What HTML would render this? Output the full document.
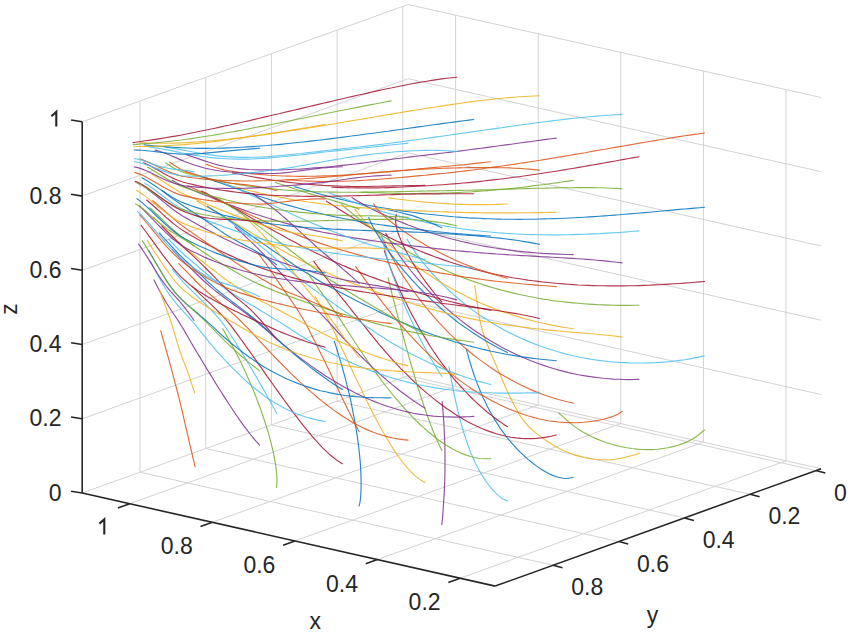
<!DOCTYPE html>
<html><head><meta charset="utf-8"><style>
html,body{margin:0;padding:0;background:#fff;}
svg{display:block;}
text{font-family:"Liberation Sans",sans-serif;font-size:23px;fill:#262626;}
.g{stroke:#d3d3d3;stroke-width:1;}
.a{stroke:#262626;stroke-width:1.6;}
path.one{stroke:#262626;stroke-width:2.1;stroke-opacity:1;fill:none;stroke-linejoin:miter;stroke-linecap:butt;}
path{fill:none;stroke-width:1.15;stroke-opacity:0.85;stroke-linecap:round;stroke-linejoin:round;}
</style></head><body>
<svg width="850" height="634" viewBox="0 0 850 634">
<rect width="850" height="634" fill="#fff"/>
<line class="g" x1="402.8" y1="377.5" x2="402.8" y2="6.3"/>
<line class="g" x1="337.1" y1="401.2" x2="337.1" y2="30"/>
<line class="g" x1="271.4" y1="424.9" x2="271.4" y2="53.7"/>
<line class="g" x1="205.7" y1="448.5" x2="205.7" y2="77.3"/>
<line class="g" x1="140" y1="472.2" x2="140" y2="101"/>
<line class="g" x1="408.1" y1="375.7" x2="82.2" y2="493"/>
<line class="g" x1="408.1" y1="301.4" x2="82.2" y2="418.8"/>
<line class="g" x1="408.1" y1="227.2" x2="82.2" y2="344.5"/>
<line class="g" x1="408.1" y1="152.9" x2="82.2" y2="270.3"/>
<line class="g" x1="408.1" y1="78.7" x2="82.2" y2="196.1"/>
<line class="g" x1="408.1" y1="4.5" x2="82.2" y2="121.8"/>
<line class="g" x1="786" y1="460.8" x2="786" y2="89.6"/>
<line class="g" x1="703.4" y1="442.2" x2="703.4" y2="71"/>
<line class="g" x1="620.8" y1="423.6" x2="620.8" y2="52.4"/>
<line class="g" x1="538.2" y1="405" x2="538.2" y2="33.8"/>
<line class="g" x1="455.6" y1="386.4" x2="455.6" y2="15.2"/>
<line class="g" x1="821.1" y1="468.7" x2="408.1" y2="375.7"/>
<line class="g" x1="821.1" y1="394.5" x2="408.1" y2="301.4"/>
<line class="g" x1="821.1" y1="320.2" x2="408.1" y2="227.2"/>
<line class="g" x1="821.1" y1="246" x2="408.1" y2="152.9"/>
<line class="g" x1="821.1" y1="171.7" x2="408.1" y2="78.7"/>
<line class="g" x1="821.1" y1="97.5" x2="408.1" y2="4.5"/>
<line class="g" x1="786" y1="460.8" x2="460.1" y2="578.2"/>
<line class="g" x1="703.4" y1="442.2" x2="377.5" y2="559.5"/>
<line class="g" x1="620.8" y1="423.6" x2="294.9" y2="540.9"/>
<line class="g" x1="538.2" y1="405" x2="212.3" y2="522.3"/>
<line class="g" x1="455.6" y1="386.4" x2="129.7" y2="503.7"/>
<line class="g" x1="815.8" y1="470.6" x2="402.8" y2="377.5"/>
<line class="g" x1="750.1" y1="494.3" x2="337.1" y2="401.2"/>
<line class="g" x1="684.4" y1="517.9" x2="271.4" y2="424.9"/>
<line class="g" x1="618.7" y1="541.6" x2="205.7" y2="448.5"/>
<line class="g" x1="553" y1="565.2" x2="140" y2="472.2"/>
<path d="M704.5 430 L700.5 433.3 L696.5 436.5 L692.1 439.2 L687.6 441.6 L682.8 443.6 L677.9 445.2 L672.9 446.6 L667.9 447.7 L662.8 448.5 L657.7 449.2 L652.5 449.6 L647.4 449.6 L642.2 449.5 L637.1 449.1 L631.9 448.5 L626.8 447.7 L621.8 446.7 L616.7 445.6 L611.8 444.3 L606.8 442.8 L602 441 L597.2 439.1 L592.5 437 L587.9 434.7 L583.3 432.2 L578.9 429.6 L574.7 426.6 L570.6 423.4 L566.7 420.1 L562.9 416.6 L559 413.2" stroke="#77AC30"/>
<path d="M704.6 355.8 L699.7 356.9 L694.7 357.9 L689.7 358.9 L684.8 359.7 L679.7 360.4 L674.7 361 L669.7 361.6 L664.7 362 L659.6 362.4 L654.6 362.7 L649.5 362.9 L644.5 363 L639.4 363 L634.3 363 L629.3 362.9 L624.2 362.6 L619.2 362.4 L614.1 362 L609.1 361.6 L604.1 361 L599 360.4 L594 359.7 L589 358.9 L584.1 358 L579.1 357 L574.2 356 L569.2 354.8 L564.3 353.6 L559.5 352.2 L554.6 350.8 L549.8 349.3 L545 347.7 L540.2 346 L535.5 344.2 L530.7 342.4 L526.1 340.4 L521.4 338.5 L516.9 336.3 L512.3 334.1 L507.8 331.9 L503.3 329.4 L498.9 327 L494.5 324.5 L490.2 321.8 L485.9 319.1 L481.7 316.3 L477.5 313.5 L473.4 310.6 L469.4 307.5 L465.3 304.5 L461.4 301.3 L457.5 298 L453.7 294.7 L450 291.3 L446.3 287.9 L442.6 284.3 L439.1 280.7 L435.6 277.1 L432.2 273.3 L428.9 269.5 L425.6 265.7 L422.5 261.8 L419.4 257.8 L416.5 253.8 L413.6 249.7 L410.9 245.5 L408.3 241.2 L407 239.1" stroke="#4DBEEE"/>
<path d="M704.6 281.5 L699.6 281.9 L694.5 282.3 L689.5 282.7 L684.4 283.1 L679.4 283.5 L674.3 283.8 L669.3 284.1 L664.2 284.4 L659.2 284.7 L654.1 284.9 L649 285.2 L644 285.4 L638.9 285.6 L633.9 285.7 L628.8 285.8 L623.7 285.9 L618.7 285.9 L613.6 285.9 L608.5 285.9 L603.5 285.8 L598.4 285.7 L593.4 285.6 L588.3 285.4 L583.2 285.2 L578.2 285 L573.1 284.6 L568.1 284.3 L563 283.9 L558 283.5 L552.9 283 L547.9 282.5 L542.9 282 L537.9 281.4 L532.8 280.7 L527.8 280.1 L522.8 279.3 L517.8 278.5 L512.8 277.7 L507.8 276.7 L502.9 275.8 L497.9 274.8 L493 273.7 L488 272.6 L483.1 271.4 L478.2 270.2 L473.3 269 L468.4 267.6 L463.5 266.2 L458.7 264.8 L453.8 263.3 L449 261.7 L444.2 260.1 L439.5 258.4 L434.7 256.7 L430 254.9 L425.3 253.1 L420.6 251.2 L415.9 249.3 L411.3 247.4 L406.7 245.4 L402.1 243.4 L397.5 241.4 L393 239.2 L388.5 237.1 L384.1 234.8 L379.6 232.5 L375.2 230.3 L370.8 228 L366.5 225.5 L362.2 223.1 L357.9 220.7 L353.6 218.2 L349.4 215.6 L345.2 213.1 L341 210.4 L336.8 207.8 L332.6 205.1 L328.5 202.5 L326.4 201.2" stroke="#A2142F"/>
<path d="M704.6 207.3 L699.6 207.7 L694.6 208.1 L689.6 208.6 L684.5 209 L679.5 209.4 L674.5 209.9 L669.5 210.4 L664.5 210.8 L659.5 211.3 L654.5 211.7 L649.5 212.2 L644.5 212.6 L639.4 213 L634.4 213.5 L629.4 213.9 L624.4 214.3 L619.4 214.8 L614.4 215.1 L609.4 215.5 L604.3 215.9 L599.3 216.2 L594.3 216.6 L589.3 216.9 L584.3 217.2 L579.2 217.5 L574.2 217.8 L569.2 218 L564.2 218.2 L559.1 218.5 L554.1 218.6 L549.1 218.8 L544 218.9 L539 219 L534 219.2 L529 219.2 L523.9 219.3 L518.9 219.3 L513.9 219.2 L508.8 219.2 L503.8 219.2 L498.8 219.1 L493.7 219 L488.7 218.8 L483.7 218.6 L478.7 218.3 L473.6 218.1 L468.6 217.9 L463.6 217.5 L458.6 217.1 L453.5 216.8 L448.5 216.3 L443.5 215.8 L438.5 215.3 L433.5 214.8 L428.5 214.2 L423.5 213.7 L418.5 213.1 L413.6 212.5 L408.6 211.8 L403.6 211.1 L398.7 210.4 L393.7 209.7 L388.8 208.8 L383.9 208 L378.9 207.2 L374 206.4 L369.1 205.5 L364.2 204.5 L359.3 203.5 L354.5 202.5 L349.6 201.4 L344.8 200.3 L340 199.1 L335.2 198 L330.3 196.7 L325.6 195.5 L320.8 194.2 L316 192.9 L311.3 191.5 L306.5 190.2 L301.8 188.7 L297 187.4 L294.6 186.7" stroke="#0072BD"/>
<path d="M704.6 133 L699.6 133.7 L694.6 134.4 L689.6 135.1 L684.6 135.8 L679.6 136.6 L674.6 137.4 L669.6 138.2 L664.7 139 L659.7 139.8 L654.7 140.6 L649.7 141.5 L644.8 142.3 L639.8 143.1 L634.8 144 L629.8 144.9 L624.9 145.7 L619.9 146.6 L614.9 147.4 L609.9 148.3 L605 149.2 L600 150 L595 150.9 L590 151.8 L585.1 152.7 L580.1 153.5 L575.1 154.4 L570.2 155.2 L565.2 156.1 L560.2 156.9 L555.2 157.7 L550.2 158.6 L545.3 159.4 L540.3 160.2 L535.3 161 L530.3 161.8 L525.3 162.6 L520.3 163.3 L515.3 164.1 L510.3 164.8 L505.4 165.5 L500.4 166.2 L495.4 166.9 L490.4 167.6 L485.4 168.3 L480.4 169 L475.3 169.7 L470.3 170.3 L465.3 170.9 L460.3 171.5 L455.3 172.1 L450.3 172.6 L445.3 173.2 L440.2 173.6 L435.2 174.1 L430.2 174.6 L425.2 175.2 L420.1 175.6 L415.1 176.1 L410.1 176.6 L405 177.1 L400 177.5 L395 178 L389.9 178.4 L384.9 178.8 L379.8 179.2 L374.8 179.6 L369.7 179.9 L364.7 180.3 L359.6 180.6 L354.6 180.8 L349.6 181 L344.5 181.2 L339.5 181.3 L334.4 181.4 L329.4 181.4 L324.3 181.5 L319.3 181.4 L314.3 181.3 L309.2 181.1 L304.2 181 L299.2 180.7 L294.2 180.3 L289.2 179.9 L286.7 179.7" stroke="#D95319"/>
<path d="M639.8 453.3 L634.9 454.7 L630 456 L625.2 457.4 L620.2 458.5 L615.2 459.2 L610.1 459.7 L605.1 459.8 L600 459.6 L595 459.2 L589.9 458.6 L584.9 457.7 L580 456.5 L575.1 455.1 L570.4 453.5 L565.7 451.5 L561.1 449.4 L556.6 447 L552.2 444.5 L547.9 441.7 L543.7 438.9 L539.6 435.9 L535.6 432.9 L531.8 429.5 L528.2 426 L524.8 422.2 L521.8 418.1 L519 413.9 L516.5 409.4 L514.1 405 L511.8 400.5 L509.5 395.9 L507.4 391.4 L505.3 386.8 L503.3 382.1 L501.3 377.4 L499.3 372.8 L497.3 368.1 L495.3 363.4 L493.3 358.8 L491.3 354.2 L489.3 349.5 L487.4 344.8 L485.6 340 L484 335.2 L482.4 330.4 L481.1 325.5 L480 320.6 L479 315.6 L478.3 310.6 L477.6 305.6 L476.9 300.6 L476.2 295.5 L475.5 290.5 L474.7 285.5" stroke="#EDB120"/>
<path d="M638.9 379.4 L633.8 379.5 L628.8 379.6 L623.8 379.5 L618.7 379.3 L613.7 379.1 L608.6 378.7 L603.6 378.3 L598.6 377.7 L593.6 377.1 L588.6 376.4 L583.6 375.6 L578.6 374.7 L573.7 373.7 L568.7 372.6 L563.8 371.4 L558.9 370.1 L554.1 368.7 L549.2 367.2 L544.4 365.6 L539.7 364 L534.9 362.3 L530.2 360.5 L525.5 358.5 L520.9 356.6 L516.3 354.5 L511.7 352.3 L507.2 350 L502.7 347.7 L498.3 345.3 L493.9 342.8 L489.6 340.2 L485.3 337.6 L481 334.8 L476.8 332 L472.7 329.2 L468.6 326.2 L464.5 323.2 L460.5 320.1 L456.6 316.9 L452.7 313.7 L448.9 310.4 L445.1 307.1 L441.4 303.6 L437.8 300.1 L434.2 296.6 L430.6 293 L427.2 289.3 L423.8 285.7 L420.4 281.9 L417.1 278.2 L413.9 274.3 L410.7 270.5 L407.6 266.6 L404.6 262.6 L401.7 258.6 L398.8 254.6 L396 250.4 L393.3 246.2 L390.7 242 L388.2 237.7 L385.8 233.4" stroke="#7E2F8E"/>
<path d="M638.9 305.2 L633.8 305.3 L628.8 305.3 L623.7 305.3 L618.7 305.3 L613.6 305.2 L608.6 305.1 L603.5 304.9 L598.5 304.7 L593.5 304.4 L588.4 304.1 L583.4 303.7 L578.3 303.3 L573.3 302.9 L568.3 302.4 L563.3 301.8 L558.2 301.2 L553.2 300.6 L548.2 299.8 L543.2 299.1 L538.3 298.2 L533.3 297.2 L528.3 296.3 L523.4 295.3 L518.4 294.2 L513.5 293.1 L508.6 291.9 L503.7 290.7 L498.8 289.4 L494 288 L489.1 286.6 L484.3 285.1 L479.5 283.5 L474.7 281.9 L470 280.2 L465.2 278.4 L460.5 276.7 L455.8 274.8 L451.1 272.9 L446.5 270.8 L441.9 268.8 L437.3 266.6 L432.8 264.5 L428.3 262.2 L423.8 260 L419.3 257.7 L414.9 255.4 L410.5 252.9 L406.1 250.5 L401.8 248 L397.6 245.4 L393.3 242.8 L389.1 240.1 L385 237.4 L380.8 234.7 L376.8 231.9 L372.7 229 L368.7 226.1 L364.7 223.2 L360.8 220.2 L356.9 217.2 L353.1 214.1 L349.3 211 L345.5 207.8 L341.8 204.6" stroke="#77AC30"/>
<path d="M638.9 230.9 L633.8 231.3 L628.8 231.7 L623.7 232.1 L618.7 232.5 L613.6 232.8 L608.6 233.1 L603.5 233.4 L598.4 233.7 L593.4 233.9 L588.3 234.1 L583.3 234.3 L578.2 234.4 L573.1 234.6 L568.1 234.7 L563 234.8 L557.9 234.8 L552.8 234.8 L547.8 234.8 L542.7 234.7 L537.6 234.7 L532.6 234.6 L527.5 234.5 L522.4 234.3 L517.4 234 L512.3 233.8 L507.3 233.5 L502.2 233.1 L497.1 232.7 L492.1 232.3 L487 231.8 L482 231.3 L477 230.8 L471.9 230.1 L466.9 229.5 L461.9 228.8 L456.9 228 L451.9 227.2 L446.9 226.4 L441.9 225.5 L436.9 224.5 L431.9 223.6 L427 222.6 L422 221.5 L417.1 220.4 L412.2 219.3 L407.3 218.1 L402.4 216.9 L397.5 215.7 L392.6 214.5 L387.8 213.1 L383 211.7 L378.2 210.4 L373.4 208.9 L368.6 207.3 L363.9 205.8 L359.2 204.2 L354.5 202.5 L349.8 200.8 L345.2 199 L340.5 197.3 L335.9 195.5 L331.3 193.6 L329 192.6" stroke="#4DBEEE"/>
<path d="M638.9 156.7 L633.9 157.6 L628.9 158.5 L623.9 159.4 L618.9 160.3 L614 161.2 L609 162.1 L604 163 L599 163.9 L594 164.8 L589 165.6 L584 166.5 L579 167.4 L574 168.2 L569 169 L564 169.9 L559 170.7 L554 171.5 L549 172.3 L544 173 L539 173.8 L533.9 174.5 L528.9 175.2 L523.9 176 L518.9 176.7 L513.9 177.3 L508.8 178 L503.8 178.7 L498.8 179.3 L493.7 179.9 L488.7 180.4 L483.7 181 L478.6 181.6 L473.6 182.1 L468.5 182.6 L463.5 183 L458.4 183.5 L453.4 183.9 L448.3 184.3 L443.3 184.7 L438.2 185 L433.2 185.3 L428.1 185.7 L423 186 L418 186.3 L412.9 186.5 L407.8 186.8 L402.8 187 L397.7 187.2 L392.6 187.4 L387.6 187.6 L382.5 187.7 L377.4 187.9 L372.4 187.9 L367.3 187.9 L362.2 188 L357.2 187.9 L352.1 187.8 L347 187.8 L342 187.6 L336.9 187.5 L331.9 187.3" stroke="#A2142F"/>
<path d="M573.2 477.3 L568.2 478.5 L563.1 478.3 L558.1 477.3 L553.3 475.6 L548.6 473.5 L544.2 471.1 L539.9 468.4 L535.7 465.4 L531.6 462.3 L527.7 459.1 L523.9 455.6 L520.2 452.1 L516.6 448.5 L513.2 444.7 L509.8 440.8 L506.6 436.9 L503.6 432.8 L500.5 428.7 L497.8 424.4 L495 420.1 L492.4 415.7 L489.9 411.2 L487.5 406.7 L485.3 402.1 L483 397.5 L481 392.8 L479.1 388.1 L477.2 383.4 L475.4 378.6 L473.7 373.8 L472.1 368.9 L470.6 364 L469.1 359.1 L467.7 354.2 L466.4 349.3" stroke="#0072BD"/>
<path d="M573.2 403.1 L568.2 402 L563.3 400.8 L558.4 399.5 L553.5 398 L548.6 396.5 L543.8 394.8 L539.1 393 L534.3 391.1 L529.6 389.1 L525 387 L520.4 384.8 L515.9 382.5 L511.4 380.1 L506.9 377.6 L502.5 375.1 L498.1 372.4 L493.9 369.7 L489.6 366.8 L485.5 363.9 L481.3 360.9 L477.3 357.9 L473.2 354.7 L469.3 351.5 L465.4 348.2 L461.6 344.9 L457.8 341.4 L454.1 337.9 L450.4 334.4 L446.8 330.8 L443.3 327.2 L439.8 323.4 L436.4 319.7 L433 315.8 L429.7 311.9 L426.5 308 L423.3 304 L420.2 300.1 L417.2 296 L414.2 292 L411.2 287.9 L408.4 283.8 L405.6 279.6 L402.8 275.4 L400.1 271.2 L397.5 266.9 L395 262.5 L392.5 258.2 L390.1 253.8 L387.8 249.3 L385.5 244.8 L383.5 240.3 L382.4 238" stroke="#D95319"/>
<path d="M573.2 328.8 L568.2 328 L563.2 327.2 L558.2 326.4 L553.2 325.4 L548.2 324.4 L543.3 323.3 L538.3 322.2 L533.4 321 L528.5 319.7 L523.6 318.4 L518.7 316.9 L513.9 315.4 L509.1 313.8 L504.3 312.2 L499.5 310.5 L494.7 308.7 L490 306.9 L485.3 305 L480.6 303 L476 300.9 L471.4 298.8 L466.8 296.6 L462.3 294.3 L457.8 291.9 L453.3 289.6 L448.9 287.1 L444.5 284.5 L440.1 281.9 L435.8 279.2 L431.6 276.5 L427.3 273.8 L423.2 270.9 L419 268.1 L414.9 265.2 L410.9 262.2 L406.9 259.2 L402.9 256.1 L399 253 L395.2 249.8 L391.4 246.6 L387.6 243.3 L383.9 240 L380.3 236.6 L376.6 233.2 L373.2 229.7 L369.7 226.1 L366.2 222.6 L362.9 218.9 L359.7 215.2 L356.5 211.3 L355 209.4" stroke="#EDB120"/>
<path d="M573.2 254.6 L568.1 254.5 L563 254.3 L557.9 254.1 L552.8 253.9 L547.7 253.6 L542.6 253.4 L537.5 253 L532.4 252.6 L527.3 252.1 L522.2 251.6 L517.2 251.1 L512.1 250.4 L507 249.7 L502 249.1 L496.9 248.3 L491.9 247.5 L486.8 246.6 L481.8 245.7 L476.8 244.8 L471.8 243.7 L466.8 242.6 L461.8 241.5 L456.9 240.3 L451.9 239 L447 237.7 L442.1 236.2 L437.2 234.7 L432.3 233.2 L427.5 231.7 L422.6 230.1 L417.8 228.5 L413.1 226.7 L408.3 225 L403.6 223.1 L398.9 221.3 L394.2 219.4 L389.6 217.4 L385 215.3 L380.5 213.2 L375.9 211 L371.4 208.8 L367 206.5 L362.6 204.1 L358.3 201.6 L354.1 198.9 L352 197.6" stroke="#7E2F8E"/>
<path d="M573.2 180.4 L568.2 181.1 L563.2 181.8 L558.1 182.6 L553.1 183.3 L548.1 184 L543.1 184.7 L538.1 185.3 L533 185.9 L528 186.6 L523 187.2 L517.9 187.7 L512.9 188.3 L507.8 188.8 L502.8 189.3 L497.7 189.7 L492.7 190.2 L487.6 190.6 L482.6 191 L477.5 191.4 L472.5 191.8 L467.4 192 L462.4 192.3 L457.3 192.6 L452.2 192.8 L447.2 193 L442.1 193.1 L437 193.2 L432 193.3 L426.9 193.4 L421.8 193.4 L416.8 193.5 L411.7 193.5 L406.6 193.5 L401.6 193.5 L396.5 193.4 L391.4 193.3 L386.4 193.2 L381.3 193 L376.3 192.8 L371.2 192.6 L366.2 192.4 L361.1 192.4" stroke="#77AC30"/>
<path d="M507.5 501 L502.8 498.9 L498.7 495.9 L495.1 492.3 L491.6 488.6 L488.4 484.6 L485.4 480.4 L482.6 476.1 L480 471.7 L477.5 467.2 L475.2 462.7 L473.1 458 L471 453.3 L469.2 448.6 L467.5 443.7 L465.8 438.9 L464.2 434 L462.7 429.1 L461.3 424.2 L460 419.3 L458.8 414.3 L457.6 409.3 L456.4 404.3 L455.3 399.3 L454.2 394.3 L453.2 389.3 L452.2 384.3 L451.2 379.3 L450.3 374.3 L449.4 369.2 L448.9 366.7" stroke="#4DBEEE"/>
<path d="M507.5 426.7 L503.2 423.9 L499 421 L494.9 418 L490.8 414.9 L486.8 411.7 L483 408.4 L479.1 405 L475.4 401.6 L471.7 398 L468.1 394.4 L464.5 390.7 L461.1 386.9 L457.7 383.1 L454.3 379.3 L451.1 375.3 L448 371.3 L444.8 367.2 L441.8 363.1 L438.8 359 L435.9 354.8 L433 350.5 L430.2 346.3 L427.5 341.9 L424.9 337.6 L422.2 333.2 L419.7 328.8 L417.2 324.3 L414.8 319.8 L412.3 315.4 L410 310.9 L407.7 306.3 L405.5 301.8 L403.2 297.3 L401.1 292.8 L399 288.3 L397 283.7 L395 279.1 L393 274.5 L391.2 269.8 L389.3 265.1 L387.6 260.4 L386 255.6 L384.3 250.8" stroke="#A2142F"/>
<path d="M507.5 352.5 L502.9 350.3 L498.4 347.9 L493.9 345.5 L489.5 343.1 L485.1 340.5 L480.7 337.8 L476.4 335.1 L472.2 332.3 L468 329.4 L463.8 326.5 L459.6 323.6 L455.6 320.5 L451.6 317.3 L447.6 314.1 L443.7 310.9 L439.9 307.5 L436.1 304.1 L432.4 300.6 L428.7 297.1 L425.1 293.6 L421.5 290 L418 286.4 L414.5 282.7 L411.1 279 L407.8 275.2 L404.5 271.5 L401.3 267.7 L398.1 263.7 L395.1 259.8 L392 255.8 L389 251.8 L386.1 247.7 L383.3 243.6 L380.6 239.4 L377.9 235.2 L375.4 230.9 L372.9 226.5 L370.6 222.1 L368.6 217.5" stroke="#0072BD"/>
<path d="M507.5 278.3 L502.6 276.9 L497.6 275.5 L492.7 274.1 L487.8 272.5 L482.9 270.8 L478 269.2 L473.2 267.5 L468.4 265.6 L463.6 263.7 L458.9 261.7 L454.2 259.7 L449.6 257.4 L444.9 255.2 L440.3 252.9 L435.8 250.6 L431.2 248.2 L426.7 245.7 L422.3 243.1 L417.9 240.5 L413.6 237.9 L409.3 235.1 L405.1 232.3 L401 229.4 L396.9 226.4 L392.9 223.3 L388.9 220.2 L385.1 216.9 L381.4 213.5 L378 209.8 L374.9 205.9 L373.6 203.7" stroke="#D95319"/>
<path d="M507.5 204 L502.3 204.2 L497.1 204.4 L491.9 204.5 L486.7 204.6 L481.5 204.6 L476.3 204.6 L471.1 204.6 L466 204.5 L460.8 204.4 L455.6 204.2 L450.4 203.9 L445.2 203.6 L440 203.3 L434.8 202.9 L429.7 202.5 L424.5 202.1 L419.3 201.5 L414.2 201 L409 200.5 L403.9 199.8 L398.7 199.2 L393.6 198.5 L388.5 197.9" stroke="#EDB120"/>
<path d="M441.8 524.6 L442.4 519.5 L442.8 514.4 L443.2 509.3 L443.5 504.2 L443.8 499 L444.2 493.9 L444.4 488.8 L444.6 483.7 L444.8 478.5 L444.9 473.4 L445 468.3 L445 463.2 L445 458 L445 452.9 L444.9 447.8 L444.8 442.6 L444.5 437.5 L444.3 432.4 L444.1 427.3 L443.8 422.2 L443.4 417 L443 411.9 L442.6 406.8 L442.2 401.7" stroke="#7E2F8E"/>
<path d="M441.8 450.4 L439.6 445.8 L437.4 441.1 L435.4 436.4 L433.4 431.7 L431.5 426.9 L429.7 422.1 L427.9 417.3 L426.2 412.5 L424.5 407.7 L422.9 402.8 L421.3 397.9 L419.7 393.1 L418.1 388.2 L416.6 383.3 L415.2 378.3 L413.7 373.4 L412.3 368.5 L410.8 363.6 L409.4 358.7 L408.1 353.7 L406.7 348.8 L405.3 343.8 L403.9 338.9 L402.6 333.9 L401.3 329 L399.9 324.1 L398.6 319.2 L397.3 314.3 L396 309.4 L394.8 304.5 L393.5 299.7 L392.2 294.9 L391.1 290 L389.9 285.1 L388.7 280.3 L388.1 277.8" stroke="#77AC30"/>
<path d="M441.8 376.2 L439 371.9 L436.3 367.5 L433.6 363.2 L431 358.8 L428.5 354.3 L426 349.8 L423.6 345.3 L421.2 340.7 L418.9 336.2 L416.6 331.6 L414.4 326.9 L412.2 322.3 L410.1 317.7 L408 313 L405.9 308.4 L404 303.7 L402 299.1 L400.1 294.4 L398.2 289.7 L396.5 285 L394.7 280.4 L393 275.6 L391.3 270.8 L389.7 266 L388.2 261.2 L386.7 256.3 L385.4 251.4 L384.1 246.5 L383 241.5 L382 236.5 L381.6 234" stroke="#4DBEEE"/>
<path d="M441.8 301.9 L438.4 298 L435.1 294 L431.8 289.9 L428.6 285.8 L425.5 281.7 L422.5 277.5 L419.5 273.2 L416.6 268.9 L413.9 264.6 L411.2 260.2 L408.6 255.8 L406.2 251.3 L403.8 246.7 L401.7 242.1 L399.7 237.3 L397.9 232.5 L396.5 227.5 L395.7 222.4 L395.8 217.2 L396.3 214.7" stroke="#A2142F"/>
<path d="M441.8 227.7 L436.9 225.4 L431.9 223.2 L426.9 221.1 L421.9 219 L416.9 217.1 L411.7 215.4 L406.5 214.1 L401.3 212.8 L396.1 211.5 L390.8 210.3 L388.2 209.8" stroke="#0072BD"/>
<path d="M622 411.4 L617.8 414.2 L613.2 416.3 L608.4 417.9 L603.5 419.2 L598.6 420.3 L593.6 421.2 L588.6 421.8 L583.6 422.3 L578.5 422.6 L573.5 422.7 L568.4 422.6 L563.4 422.4 L558.3 422 L553.3 421.4 L548.3 420.7 L543.4 419.7 L538.4 418.7 L533.5 417.4 L528.6 416 L523.8 414.5 L519 412.8 L514.3 411 L509.6 409.2 L505 407.2 L500.4 405.1 L495.9 402.8 L491.4 400.4 L486.9 398 L482.6 395.5 L478.2 392.9 L473.9 390.2 L469.7 387.4 L465.6 384.6 L461.4 381.6 L457.4 378.7 L453.4 375.6 L449.4 372.4 L445.5 369.2 L441.6 365.9 L437.8 362.6 L434.1 359.3 L430.3 355.8 L426.7 352.3 L423.1 348.8 L419.5 345.2 L416 341.5 L412.6 337.9 L409.1 334.2 L405.7 330.4 L402.4 326.6 L399.1 322.8 L395.9 318.9 L392.7 315.1 L389.5 311.2 L386.4 307.4 L383.3 303.6 L380.3 299.7 L377.3 295.9 L374.3 292 L371.4 288.2 L368.4 284.3 L365.5 280.4 L362.7 276.4 L359.8 272.4 L357 268.4 L355.6 266.4" stroke="#D95319"/>
<path d="M622 337.1 L617 336.4 L612 335.8 L607 335.3 L602 334.8 L597 334.3 L591.9 333.8 L586.9 333.4 L581.9 333 L576.9 332.6 L571.8 332.2 L566.8 331.7 L561.8 331.3 L556.8 330.8 L551.8 330.4 L546.7 329.9 L541.7 329.3 L536.7 328.8 L531.7 328.2 L526.7 327.6 L521.7 327 L516.7 326.3 L511.7 325.6 L506.7 324.9 L501.7 324.2 L496.8 323.4 L491.8 322.5 L486.8 321.7 L481.9 320.8 L476.9 319.9 L472 318.9 L467 317.9 L462.1 316.8 L457.2 315.7 L452.3 314.5 L447.4 313.3 L442.5 312.1 L437.6 310.9 L432.7 309.5 L427.9 308.2 L423 306.8 L418.2 305.4 L413.4 304 L408.6 302.5 L403.8 301 L399 299.5 L394.2 298 L389.5 296.4 L384.8 294.8 L380.1 293.3 L375.4 291.6 L370.7 289.9 L366 288.3 L361.4 286.6 L356.8 284.9 L352.2 283.1 L347.6 281.4 L343 279.5 L338.4 277.7 L333.9 275.8 L329.4 273.8 L324.9 271.7 L320.4 269.7 L316 267.6 L311.5 265.5 L307.1 263.4 L302.7 261.2 L298.3 258.9 L293.9 256.7 L289.6 254.4 L285.3 252 L280.9 249.7 L276.6 247.3 L272.3 244.9 L268 242.5 L263.7 240.1 L259.5 237.6 L255.2 235.1 L250.9 232.6 L246.7 230.1 L242.4 227.6 L238.2 225.1 L233.9 222.5 L229.6 220 L225.3 217.5 L221.1 214.9 L216.8 212.4 L212.5 209.9 L208.1 207.4 L203.8 204.9 L199.4 202.5 L197.2 201.3" stroke="#EDB120"/>
<path d="M622 262.9 L617 262.3 L612 261.7 L607 261.1 L602 260.6 L597 260.2 L592 259.7 L587 259.4 L582 259 L577 258.7 L571.9 258.4 L566.9 258.1 L561.9 257.8 L556.9 257.5 L551.9 257.2 L546.8 256.9 L541.8 256.7 L536.8 256.4 L531.8 256.1 L526.8 255.8 L521.7 255.6 L516.7 255.3 L511.7 255 L506.7 254.6 L501.7 254.3 L496.6 254 L491.6 253.6 L486.6 253.3 L481.6 252.9 L476.6 252.5 L471.6 252 L466.6 251.6 L461.6 251.1 L456.5 250.7 L451.5 250.2 L446.5 249.7 L441.5 249.1 L436.5 248.6 L431.6 248 L426.6 247.5 L421.6 246.9 L416.6 246.4 L411.6 245.8 L406.6 245.1 L401.7 244.5 L396.7 243.9 L391.7 243.4 L386.8 242.7 L381.8 242 L376.9 241.3 L371.9 240.6 L367 239.9 L362.1 239.1 L357.1 238.4 L352.2 237.6 L347.3 236.7 L342.4 235.9 L337.5 235 L332.6 234 L327.8 233.1 L322.9 232.2 L318 231.1 L313.2 230.1 L308.4 229 L303.5 227.8 L298.7 226.6 L293.9 225.5 L289.1 224.1 L284.3 222.9 L279.6 221.5 L274.8 220.1 L270.1 218.7 L265.4 217.3 L260.7 215.7 L255.9 214.2 L251.2 212.7 L246.6 211 L241.9 209.4 L237.2 207.6 L232.6 205.9 L227.9 204.2 L223.3 202.4 L218.6 200.6 L214 198.7 L209.4 196.8 L204.8 195 L200.1 193.1 L195.5 191.2 L190.9 189.3 L186.2 187.4 L181.6 185.4 L176.9 183 L172.2 180.3" stroke="#7E2F8E"/>
<path d="M622 188.7 L617 188.4 L611.9 188.2 L606.9 188 L601.8 187.8 L596.8 187.7 L591.7 187.6 L586.7 187.6 L581.6 187.6 L576.6 187.6 L571.5 187.7 L566.5 187.7 L561.5 187.8 L556.4 187.8 L551.4 188 L546.3 188.1 L541.3 188.2 L536.2 188.3 L531.2 188.5 L526.1 188.6 L521.1 188.8 L516 188.9 L511 189.1 L505.9 189.2 L500.9 189.4 L495.9 189.5 L490.8 189.7 L485.8 189.8 L480.7 189.9 L475.7 190.1 L470.6 190.2 L465.6 190.3 L460.5 190.4 L455.5 190.5 L450.4 190.6 L445.4 190.7 L440.3 190.8 L435.3 190.8 L430.3 190.9 L425.2 191 L420.2 191.1 L415.1 191.3 L410.1 191.4 L405 191.5 L400 191.6 L394.9 191.7 L389.9 191.8 L384.8 191.9 L379.8 191.9 L374.7 192 L369.7 192 L364.6 192.1 L359.6 192.2 L354.6 192.2 L349.5 192.2 L344.5 192.2 L339.4 192.2 L334.4 192.1 L329.4 192 L324.3 192 L319.3 191.9 L314.3 191.7 L309.3 191.5 L304.2 191.2 L299.2 191 L294.2 190.7 L289.2 190.4 L284.2 190 L279.2 189.6 L274.2 189.1 L269.2 188.6 L264.2 188.1 L259.2 187.5 L254.3 186.9 L249.3 186.2 L244.3 185.4 L239.4 184.6 L234.5 183.8 L229.5 183 L224.6 182 L219.7 181 L214.8 179.9 L209.9 178.9 L205 177.8 L200.1 176.6 L195.2 175.4 L190.3 174.1 L185.4 172.9 L180.5 171.3 L175.6 169.1 L170.8 166.2 L165.9 163.1" stroke="#77AC30"/>
<path d="M622 114.4 L617 114.7 L611.9 115 L606.9 115.3 L601.9 115.7 L596.8 116.1 L591.8 116.5 L586.8 117 L581.7 117.5 L576.7 118 L571.7 118.5 L566.7 119.1 L561.7 119.7 L556.7 120.3 L551.7 120.9 L546.7 121.5 L541.6 122.2 L536.6 122.8 L531.6 123.5 L526.6 124.2 L521.6 124.8 L516.6 125.5 L511.6 126.2 L506.6 126.9 L501.7 127.7 L496.7 128.4 L491.7 129.1 L486.7 129.8 L481.7 130.5 L476.7 131.2 L471.7 131.9 L466.7 132.6 L461.7 133.3 L456.7 134.1 L451.7 134.8 L446.7 135.5 L441.7 136.2 L436.7 136.9 L431.7 137.6 L426.7 138.3 L421.7 139 L416.7 139.7 L411.7 140.4 L406.7 141 L401.7 141.7 L396.7 142.4 L391.7 143 L386.7 143.7 L381.7 144.3 L376.7 144.9 L371.7 145.5 L366.6 146.1 L361.6 146.7 L356.6 147.2 L351.6 147.7 L346.6 148.3 L341.6 148.8 L336.5 149.4 L331.5 150 L326.5 150.5 L321.5 151.1 L316.4 151.7 L311.4 152.3 L306.4 152.8 L301.3 153.5 L296.3 154 L291.3 154.5 L286.2 155 L281.2 155.5 L276.1 156 L271.1 156.4 L266.1 156.7 L261 157 L256 157.2 L250.9 157.3 L245.9 157.4 L240.8 157.4 L235.8 157.1 L230.7 156.9 L225.7 156.6 L220.6 156.1 L215.6 155.6 L210.6 154.9 L205.6 154.1 L200.5 153.4 L195.5 152.5 L190.5 151.5 L185.5 150.5 L180.5 149.6 L175.5 148.7 L170.5 147.9 L165.5 147.1" stroke="#4DBEEE"/>
<path d="M556.3 435 L551.4 436.2 L546.4 437.1 L541.4 437.9 L536.3 438.4 L531.2 438.6 L526.2 438.6 L521.1 438.4 L516.1 437.9 L511 437.2 L506 436.2 L501.1 435 L496.2 433.7 L491.4 432.1 L486.6 430.4 L481.9 428.5 L477.3 426.4 L472.7 424.2 L468.2 421.9 L463.8 419.4 L459.4 416.8 L455.1 414.2 L450.9 411.3 L446.7 408.5 L442.6 405.5 L438.5 402.5 L434.5 399.4 L430.6 396.1 L426.6 392.9 L422.8 389.6 L419 386.2 L415.3 382.8 L411.6 379.3 L408 375.7 L404.4 372.2 L400.8 368.6 L397.3 364.9 L393.8 361.2 L390.4 357.4 L387.1 353.6 L383.8 349.8 L380.4 346 L377.2 342.1 L374 338.1 L370.8 334.1 L367.6 330.2 L364.5 326.2 L361.4 322.3 L358.3 318.4 L355.2 314.6 L352.2 310.8 L349.2 307 L346.2 303.2 L343.2 299.6 L340.2 295.9 L337.3 292.2 L334.3 288.5 L331.4 284.8 L328.5 281 L325.5 277.2 L322.6 273.2 L319.7 269.3 L316.7 265.3 L313.8 261.3" stroke="#A2142F"/>
<path d="M556.3 360.8 L551.3 360.3 L546.2 359.8 L541.2 359.3 L536.2 358.7 L531.2 358.1 L526.2 357.4 L521.2 356.7 L516.2 355.9 L511.2 355.1 L506.2 354.2 L501.2 353.2 L496.3 352.2 L491.3 351.2 L486.4 350.1 L481.5 349 L476.5 347.8 L471.7 346.6 L466.8 345.2 L461.9 343.9 L457 342.5 L452.2 341 L447.4 339.5 L442.6 338 L437.8 336.3 L433 334.7 L428.3 333 L423.5 331.2 L418.8 329.4 L414.1 327.5 L409.5 325.5 L404.8 323.5 L400.2 321.5 L395.6 319.5 L391 317.4 L386.4 315.3 L381.9 313.2 L377.4 311 L372.9 308.8 L368.4 306.6 L363.9 304.5 L359.5 302.2 L355.1 300 L350.8 297.7 L346.4 295.5 L342.1 293.3 L337.8 291 L333.5 288.7 L329.2 286.4 L325 284 L320.7 281.7 L316.6 279.2 L312.4 276.6 L308.2 274.1 L304.1 271.4 L299.9 268.7 L295.8 266.1 L291.7 263.3 L287.6 260.6 L283.5 257.8 L279.5 255.1 L275.4 252.2 L271.3 249.5 L267.3 246.6 L263.2 243.8 L259.2 241 L255.2 238.2 L251.1 235.3 L247 232.5 L243 229.7 L238.9 226.8 L234.8 224.1 L230.7 221.2 L226.5 218.5 L222.4 215.8 L218.2 213.1 L213.9 210.4 L209.7 207.8 L207.6 206.4" stroke="#0072BD"/>
<path d="M556.3 286.6 L551.3 286.2 L546.2 285.8 L541.2 285.5 L536.2 285.1 L531.1 284.6 L526.1 284.2 L521.1 283.8 L516 283.3 L511 282.8 L506 282.3 L501 281.7 L495.9 281.2 L490.9 280.6 L485.9 280 L480.9 279.3 L475.9 278.6 L470.9 277.9 L465.9 277.2 L460.9 276.4 L455.9 275.6 L450.9 274.8 L446 273.9 L441 273.1 L436 272.1 L431.1 271.2 L426.1 270.2 L421.2 269.2 L416.2 268.2 L411.3 267.3 L406.4 266.2 L401.5 265.2 L396.6 264.1 L391.7 263 L386.8 261.9 L381.9 260.8 L377.1 259.6 L372.2 258.4 L367.4 257.2 L362.6 255.9 L357.7 254.6 L352.9 253.3 L348.2 251.9 L343.4 250.5 L338.6 249.1 L333.9 247.7 L329.2 246.2 L324.4 244.6 L319.7 243.1 L315.1 241.4 L310.4 239.8 L305.7 238.1 L301.1 236.4 L296.5 234.6 L291.9 232.8 L287.3 231 L282.7 229.1 L278.1 227.3 L273.5 225.3 L269 223.3 L264.4 221.4 L259.9 219.3 L255.4 217.3 L250.9 215.2 L246.4 213.2 L241.9 211.1 L237.4 209 L232.9 206.9 L228.4 204.7 L223.9 202.5 L219.3 200.4 L214.8 198.3 L210.3 196.1 L205.8 194 L201.2 191.9 L196.6 189.9 L192 187.8 L187.4 185.8" stroke="#D95319"/>
<path d="M556.3 212.3 L551.3 212.4 L546.2 212.5 L541.2 212.6 L536.1 212.6 L531.1 212.7 L526 212.7 L521 212.8 L515.9 212.8 L510.9 212.8 L505.8 212.8 L500.8 212.8 L495.7 212.8 L490.7 212.8 L485.6 212.8 L480.6 212.7 L475.5 212.6 L470.5 212.6 L465.4 212.5 L460.4 212.4 L455.3 212.3 L450.3 212.1 L445.3 211.9 L440.2 211.7 L435.2 211.5 L430.1 211.3 L425.1 211.1 L420 210.9 L415 210.7 L410 210.4 L404.9 210.2 L399.9 209.9 L394.9 209.7 L389.8 209.4 L384.8 209.2 L379.8 208.9 L374.8 208.6 L369.7 208.3 L364.7 207.9 L359.7 207.6 L354.7 207.2 L349.7 206.8 L344.7 206.3 L339.7 205.8 L334.7 205.3 L329.8 204.8 L324.8 204.2 L319.8 203.6 L314.9 202.9 L309.9 202.3 L305 201.5 L300 200.8 L295.1 200 L290.2 199.1 L285.3 198.3 L280.3 197.3 L275.5 196.4 L270.6 195.4 L265.7 194.4 L260.8 193.3 L256 192.1 L251.1 191 L246.3 189.8 L241.4 188.5 L236.6 187.2 L231.8 186 L226.9 184.6 L222.1 183.2 L217.3 181.8 L212.5 180.4 L207.7 179 L202.9 177.5 L198.1 176.1 L193.2 174.7 L188.4 173.1 L183.6 171.7" stroke="#EDB120"/>
<path d="M556.3 138.1 L551.3 138.8 L546.3 139.4 L541.2 140.1 L536.2 140.8 L531.2 141.5 L526.2 142.1 L521.2 142.8 L516.2 143.5 L511.1 144.2 L506.1 144.9 L501.1 145.5 L496.1 146.2 L491.1 146.9 L486 147.6 L481 148.2 L476 148.9 L471 149.5 L466 150.2 L460.9 150.9 L455.9 151.5 L450.9 152.1 L445.9 152.7 L440.8 153.3 L435.8 153.9 L430.8 154.5 L425.8 155.1 L420.7 155.7 L415.7 156.3 L410.7 156.9 L405.6 157.5 L400.6 158.2 L395.5 158.8 L390.5 159.5 L385.5 160.1 L380.4 160.8 L375.4 161.4 L370.3 162 L365.3 162.7 L360.2 163.4 L355.2 164 L350.1 164.5 L345.1 165.1 L340 165.6 L334.9 166.2 L329.9 166.7 L324.8 167.2 L319.8 167.6 L314.7 167.9 L309.6 168.3 L304.6 168.7 L299.5 169.1 L294.4 169.2 L289.4 169.5 L284.3 169.7 L279.3 169.9 L274.2 169.9 L269.1 169.9 L264.1 169.9 L259 169.9 L254 169.7 L248.9 169.5 L243.9 169.1 L238.9 168.6 L233.8 168 L228.8 167.2 L223.8 166.2 L218.8 165.1 L213.8 163.7 L208.8 162.3 L203.8 160.6 L198.8 158.9 L193.8 157.2 L188.8 155.4 L186.3 154.6" stroke="#7E2F8E"/>
<path d="M490.6 458.7 L485.5 458.8 L480.4 458.5 L475.4 457.7 L470.5 456.5 L465.6 454.9 L460.9 453.1 L456.3 451 L451.8 448.6 L447.5 446 L443.2 443.3 L439 440.4 L435 437.2 L431 434 L427.1 430.7 L423.3 427.4 L419.6 424 L415.9 420.4 L412.4 416.8 L408.9 413.1 L405.4 409.4 L402 405.6 L398.7 401.7 L395.4 397.9 L392.1 394 L389 390 L385.8 386 L382.7 382 L379.6 377.9 L376.6 373.8 L373.7 369.7 L370.8 365.5 L367.8 361.4 L364.9 357.2 L362.1 353 L359.3 348.7 L356.4 344.5 L353.6 340.3 L350.9 336 L348.2 331.7 L345.4 327.4 L342.7 323.2 L340 319.1 L337.3 315.1 L334.6 311.2 L331.9 307.3 L329.2 303.4 L326.6 299.6 L323.8 295.9 L321.2 292.1 L318.4 288.3 L315.7 284.5 L313 280.6 L310.2 276.6 L307.5 272.5" stroke="#77AC30"/>
<path d="M490.6 384.5 L485.7 383.2 L480.8 381.9 L475.9 380.5 L471.1 379 L466.3 377.5 L461.5 375.8 L456.7 374.1 L452 372.3 L447.2 370.5 L442.5 368.6 L437.9 366.6 L433.3 364.5 L428.6 362.5 L424 360.3 L419.5 358.1 L415 355.7 L410.5 353.4 L406.1 351 L401.6 348.5 L397.2 346 L392.8 343.5 L388.5 340.9 L384.2 338.1 L380 335.4 L375.7 332.7 L371.5 329.8 L367.3 327 L363.2 324.1 L359 321.3 L354.9 318.4 L350.9 315.6 L346.8 312.7 L342.8 310 L338.8 307.1 L334.8 304.4 L330.9 301.6 L327 298.8 L323 296.1 L319.1 293.4 L315.3 290.6 L311.4 287.8 L307.6 284.9 L303.8 282 L300 279.1 L296.2 276 L292.4 272.8 L288.6 269.7 L284.9 266.5 L281.1 263.3 L277.3 260.1 L273.6 256.9 L269.8 253.8 L266 250.6 L262.2 247.4 L258.4 244.2 L254.6 241.1 L250.7 238 L246.9 234.8 L243 231.7 L239.1 228.7 L235.2 225.6 L231.2 222.6 L227.2 219.7 L223.2 216.7 L219.1 213.8" stroke="#4DBEEE"/>
<path d="M490.6 310.2 L485.6 309.3 L480.6 308.3 L475.7 307.3 L470.7 306.3 L465.8 305.2 L460.8 304.1 L455.9 302.9 L451 301.7 L446.1 300.5 L441.2 299.2 L436.3 297.8 L431.4 296.5 L426.6 295.1 L421.7 293.7 L416.9 292.2 L412.1 290.7 L407.3 289.2 L402.5 287.6 L397.7 286.1 L392.9 284.6 L388.2 282.9 L383.5 281.3 L378.8 279.6 L374.1 277.9 L369.4 276.2 L364.8 274.4 L360.1 272.6 L355.5 270.8 L350.9 268.9 L346.4 266.9 L341.8 265 L337.3 263 L332.8 260.9 L328.3 258.9 L323.8 256.8 L319.3 254.6 L314.9 252.5 L310.4 250.3 L306 248.1 L301.6 245.9 L297.2 243.5 L292.9 241.2 L288.5 238.9 L284.2 236.5 L279.9 234.1 L275.5 231.7 L271.2 229.3 L266.9 226.9 L262.6 224.4 L258.3 221.9 L254 219.5 L249.7 217 L245.4 214.6 L241 212.1 L236.7 209.6 L232.3 207.2 L228 204.8 L223.6 202.4 L219.2 200 L214.7 197.7 L210.3 195.4 L205.8 193.1 L201.3 190.9" stroke="#A2142F"/>
<path d="M490.6 236 L485.6 235.7 L480.5 235.4 L475.5 235.1 L470.4 234.7 L465.4 234.3 L460.4 233.9 L455.3 233.5 L450.3 233.1 L445.3 232.5 L440.2 232 L435.2 231.5 L430.2 231 L425.2 230.4 L420.2 229.8 L415.2 229.3 L410.2 228.7 L405.2 228.1 L400.2 227.4 L395.2 226.8 L390.2 226.1 L385.2 225.4 L380.3 224.7 L375.3 224 L370.4 223.2 L365.4 222.4 L360.5 221.5 L355.6 220.7 L350.6 219.9 L345.7 219 L340.8 218 L335.9 217 L331 215.9 L326.2 214.9 L321.3 213.8 L316.5 212.6 L311.6 211.5 L306.8 210.3 L302 209.1 L297.2 207.7 L292.4 206.4 L287.6 205.1 L282.8 203.7 L278.1 202.2 L273.3 200.8 L268.6 199.3 L263.9 197.7 L259.1 196.2 L254.4 194.6 L249.7 193 L245 191.5 L240.3 189.8 L235.5 188.2 L230.8 186.6 L226.1 185 L221.4 183.3 L216.6 181.7 L211.9 180 L207.1 178.4 L202.4 176.8 L200 176" stroke="#0072BD"/>
<path d="M490.6 161.8 L485.6 162.3 L480.5 162.9 L475.5 163.4 L470.5 163.9 L465.5 164.5 L460.4 165 L455.4 165.5 L450.4 166 L445.3 166.5 L440.3 167 L435.3 167.4 L430.2 167.8 L425.2 168.3 L420.1 168.7 L415.1 169.2 L410.1 169.7 L405 170.2 L400 170.7 L394.9 171.1 L389.9 171.6 L384.8 172 L379.8 172.4 L374.7 172.8 L369.7 173.3 L364.6 173.6 L359.6 174 L354.5 174.4 L349.4 174.7 L344.4 175 L339.3 175.2 L334.3 175.5 L329.2 175.7 L324.2 175.9 L319.1 176.1 L314.1 176.2 L309 176.3 L304 176.3 L298.9 176.3 L293.9 176.2 L288.8 176.1 L283.8 176 L278.7 175.8 L273.7 175.5 L268.7 175.3 L263.7 174.8 L258.7 174.4 L253.7 174 L248.7 173.5 L243.7 172.9 L238.7 172.2 L233.7 171.6 L228.7 170.8 L223.7 169.9 L218.8 168.5 L213.8 167 L208.9 165.3 L206.4 164.3" stroke="#D95319"/>
<path d="M424.9 482.4 L420.5 479.9 L416.4 476.9 L412.6 473.5 L409.1 469.9 L405.8 466 L402.6 462.1 L399.6 458 L396.7 453.8 L393.8 449.7 L391.1 445.4 L388.5 441 L385.8 436.7 L383.3 432.3 L380.8 427.9 L378.4 423.4 L376 418.9 L373.6 414.4 L371.3 409.9 L369 405.4 L366.8 400.9 L364.5 396.3 L362.3 391.7 L360.2 387.1 L358 382.6 L355.8 378 L353.6 373.4 L351.5 368.8 L349.3 364.2 L347.2 359.6 L345.1 355 L342.9 350.4 L340.7 345.8 L338.6 341.2 L336.5 336.6 L334.3 332 L332.1 327.5 L329.9 323 L327.7 318.7 L325.5 314.5 L323.3 310.4 L321 306.4 L318.7 302.4 L316.4 298.5 L315.3 296.5" stroke="#EDB120"/>
<path d="M424.9 408.1 L420.6 405.4 L416.3 402.6 L412.1 399.7 L408 396.8 L403.9 393.7 L399.8 390.7 L395.8 387.5 L391.9 384.4 L388 381.1 L384.1 377.8 L380.3 374.4 L376.5 371 L372.7 367.6 L369.1 364.1 L365.4 360.6 L361.7 357 L358.1 353.4 L354.6 349.8 L351 346.1 L347.5 342.5 L344 338.8 L340.5 335 L337.1 331.3 L333.7 327.5 L330.3 323.8 L326.9 320.2 L323.6 316.7 L320.2 313.2 L316.9 309.8 L313.6 306.4 L310.3 303.1 L307 299.9 L303.7 296.6 L300.4 293.4 L297.1 290.1 L293.8 286.8 L290.5 283.4 L287.2 279.9 L283.9 276.3 L280.5 272.7 L277.2 269 L273.9 265.3 L270.5 261.7 L267.1 258.1 L263.7 254.5 L260.2 250.9 L256.8 247.4 L253.2 243.9 L249.6 240.4 L246 237 L242.4 233.5 L238.7 230.2 L235 226.9" stroke="#7E2F8E"/>
<path d="M424.9 333.9 L420.4 331.7 L415.8 329.5 L411.3 327.3 L406.8 325 L402.3 322.7 L397.8 320.3 L393.4 317.9 L389.1 315.4 L384.7 312.9 L380.4 310.4 L376 308 L371.8 305.5 L367.5 303 L363.3 300.5 L359 298 L354.9 295.5 L350.7 292.9 L346.6 290.4 L342.5 287.8 L338.4 285.2 L334.4 282.5 L330.3 279.9 L326.3 277.1 L322.3 274.3 L318.4 271.4 L314.4 268.5 L310.4 265.6 L306.5 262.7 L302.6 259.7 L298.6 256.8 L294.7 253.8 L290.8 250.8 L286.9 247.8 L283 244.8 L279.2 241.8 L275.3 238.8 L271.3 235.8 L267.4 232.9 L263.5 229.9 L259.6 226.9 L255.6 224 L251.6 221.1 L247.6 218.2 L243.6 215.3 L239.5 212.5 L235.4 209.6 L231.2 207 L227.1 204.2 L222.8 201.6 L218.6 199" stroke="#77AC30"/>
<path d="M424.9 259.6 L420 258.4 L415.1 257.1 L410.2 255.8 L405.4 254.4 L400.5 253.1 L395.7 251.8 L390.8 250.4 L386 249 L381.2 247.7 L376.5 246.4 L371.7 245 L366.9 243.6 L362.2 242.1 L357.5 240.5 L352.8 238.9 L348.1 237.2 L343.4 235.5 L338.8 233.8 L334.2 232 L329.5 230.2 L324.9 228.4 L320.4 226.5 L315.8 224.6 L311.2 222.7 L306.7 220.8 L302.2 218.7 L297.7 216.7 L293.1 214.7 L288.6 212.6 L284.2 210.5 L279.7 208.4 L275.2 206.3 L270.7 204.2 L266.2 202.1 L261.7 200 L257.2 197.9 L252.7 195.9 L248.2 193.8 L243.6 191.8 L239.1 189.8 L234.5 187.8 L229.9 185.9 L225.3 184 L220.6 182.2" stroke="#4DBEEE"/>
<path d="M424.9 185.4 L419.8 185.5 L414.7 185.5 L409.5 185.6 L404.4 185.7 L399.3 185.8 L394.2 185.9 L389.1 186 L384 186.1 L378.9 186.2 L373.7 186.3 L368.6 186.5 L363.5 186.6 L358.4 186.6 L353.3 186.5 L348.2 186.4 L343.1 186.3 L338 186.1 L332.9 185.9 L327.8 185.6 L322.7 185.4 L317.7 185 L312.6 184.6 L307.5 184.3 L302.5 183.8 L297.4 183.3 L292.4 182.7 L287.3 182.1 L282.3 181.4 L277.3 180.7 L272.3 180 L267.2 179.2 L262.2 178.4 L257.2 177.6 L252.2 176.7 L247.3 175.8 L242.3 174.8 L237.3 173.8 L232.3 172.9" stroke="#A2142F"/>
<path d="M359.2 506 L360.2 501 L360.7 496 L361 490.9 L361.1 485.8 L361.1 480.7 L361 475.6 L360.7 470.5 L360.5 465.5 L360.1 460.4 L359.6 455.3 L359 450.3 L358.5 445.2 L357.8 440.2 L357.1 435.1 L356.3 430.1 L355.4 425.1 L354.6 420.1 L353.6 415.1 L352.6 410.1 L351.6 405.1 L350.6 400.1 L349.5 395.2 L348.2 390.2 L347 385.3 L345.8 380.3 L344.5 375.4 L343.1 370.5 L341.8 365.6 L340.3 360.7 L338.9 355.9 L337.4 351 L335.9 346.1 L334.3 341.3" stroke="#0072BD"/>
<path d="M359.2 431.8 L356.8 427.3 L354.5 422.7 L352.2 418.2 L349.9 413.6 L347.6 409.1 L345.4 404.5 L343.2 399.9 L340.9 395.3 L338.8 390.7 L336.6 386.1 L334.4 381.5 L332.2 376.9 L330 372.3 L327.8 367.7 L325.5 363.1 L323.3 358.5 L321 354 L318.8 349.4 L316.5 344.8 L314.2 340.3 L311.9 335.7 L309.6 331.1 L307.3 326.6 L305 322.3 L302.6 318.2 L300.2 314.2 L297.8 310.3 L295.3 306.5 L292.8 302.8 L290.3 299.1 L287.8 295.5 L285.2 291.8 L282.6 288 L279.9 284.2 L277.2 280.3 L274.5 276.2 L271.7 272.1 L268.9 268 L266 263.9 L263 259.9 L260.1 255.9 L258.5 254" stroke="#D95319"/>
<path d="M359.2 357.5 L356 353.5 L352.9 349.4 L349.9 345.2 L346.8 341.1 L343.8 337 L340.8 332.8 L337.8 328.6 L334.8 324.5 L331.9 320.5 L328.9 316.5 L326 312.7 L323 309 L320 305.4 L317.1 301.7 L314.2 298.1 L311.2 294.5 L308.3 290.9 L305.4 287.3 L302.4 283.6 L299.4 279.8 L296.4 275.9 L293.4 271.9 L290.3 267.9 L287.3 264 L284.2 260.1 L281.1 256.2 L277.9 252.3 L274.7 248.4 L271.5 244.6 L268.2 240.9 L264.8 237.1 L261.5 233.4 L258.1 229.8 L254.5 226.3 L250.9 222.7 L247.3 219.3 L243.6 215.9" stroke="#EDB120"/>
<path d="M359.2 283.3 L355.4 279.9 L351.6 276.6 L347.9 273.3 L344.1 270.1 L340.5 267 L336.8 263.8 L333.1 260.8 L329.4 257.8 L325.8 254.7 L322.2 251.7 L318.6 248.7 L315 245.5 L311.4 242.2 L307.8 238.9 L304.2 235.5 L300.5 232.1 L296.9 228.8 L293.2 225.4 L289.5 222.1 L285.8 218.8 L282 215.6 L278.3 212.3 L274.4 209.2 L270.5 206.1 L266.5 203.2 L262.5 200.2 L258.3 197.4 L254.1 194.7 L252 193.4" stroke="#7E2F8E"/>
<path d="M359.2 209.1 L354.3 207.4 L349.5 205.7 L344.6 204.1 L339.8 202.6 L335 201.1 L330.2 199.7 L325.4 198.2 L320.7 196.9 L315.9 195.5 L311.2 194.1 L306.4 192.7 L301.7 191.2 L296.9 189.7 L292.1 188 L287.3 186.3 L282.5 184.7 L277.6 183.2 L275.2 182.4" stroke="#77AC30"/>
<path d="M539.4 392.8 L534.4 392.8 L529.3 392.9 L524.3 393 L519.2 393.1 L514.2 393.1 L509.2 393.1 L504.1 393.1 L499.1 393.1 L494.1 393 L489 392.8 L484 392.7 L478.9 392.5 L473.9 392.2 L468.9 391.8 L463.9 391.5 L458.9 391 L453.8 390.5 L448.8 389.8 L443.8 389.1 L438.9 388.4 L433.9 387.6 L428.9 386.7 L424 385.8 L419 384.8 L414.1 383.7 L409.2 382.6 L404.3 381.3 L399.5 380 L394.6 378.6 L389.8 377.2 L385 375.6 L380.2 374 L375.5 372.4 L370.7 370.6 L366 368.8 L361.3 367 L356.7 365 L352.1 363 L347.5 360.9 L342.9 358.8 L338.4 356.7 L333.9 354.4 L329.4 352.1 L324.9 349.7 L320.5 347.3 L316.1 344.8 L311.7 342.3 L307.4 339.7 L303.1 337.1 L298.8 334.5 L294.6 331.8 L290.4 329 L286.2 326.3 L282 323.6 L277.8 321.1 L273.7 318.4 L269.6 315.9 L265.5 313.4 L261.5 311 L257.5 308.6 L253.5 306.2 L249.5 303.9 L245.5 301.5 L241.6 299.1 L237.7 296.7 L233.8 294.2 L229.9 291.7 L226 289.1 L222.2 286.3 L218.3 283.5 L214.5 280.4 L210.6 277.2 L206.8 274 L203 270.8 L199.2 267.5 L195.4 264.3 L191.6 261 L187.7 257.7 L183.9 254.5 L180.1 251 L176.3 247.2 L172.4 243.2 L168.5 239.1" stroke="#4DBEEE"/>
<path d="M539.4 318.5 L534.5 317.3 L529.6 316.2 L524.6 315.2 L519.7 314.3 L514.7 313.4 L509.8 312.6 L504.8 311.8 L499.8 311 L494.8 310.3 L489.9 309.6 L484.9 308.9 L479.9 308.3 L474.9 307.6 L469.9 306.9 L464.9 306.3 L459.9 305.6 L454.9 305 L449.9 304.3 L444.9 303.7 L439.9 303 L434.9 302.3 L430 301.6 L425 300.9 L420 300.2 L415 299.5 L410 298.8 L405 298.1 L400.1 297.5 L395.1 296.7 L390.1 296 L385.2 295.3 L380.2 294.5 L375.3 293.7 L370.3 293 L365.4 292.2 L360.5 291.4 L355.6 290.6 L350.6 289.7 L345.7 288.9 L340.8 288.1 L335.9 287.1 L331.1 286.2 L326.2 285.2 L321.3 284.3 L316.5 283.3 L311.6 282.3 L306.8 281.2 L302 280.1 L297.2 278.9 L292.4 277.6 L287.6 276.3 L282.9 274.9 L278.1 273.4 L273.4 272 L268.7 270.5 L264 268.9 L259.3 267.2 L254.7 265.5 L250 263.7 L245.4 261.9 L240.8 260.1 L236.2 258.2 L231.7 256.1 L227.1 254.1 L222.6 252 L218.2 249.9 L213.7 247.6 L209.2 245.4 L204.8 243.1 L200.4 240.7 L196 238.2 L191.6 235.8 L187.3 233.2 L183 230.6 L178.7 227.6 L174.4 224.4 L170.1 220.8 L165.8 217.1 L161.6 213.2 L157.3 209.3 L153 205.5 L148.7 201.8 L146.5 200" stroke="#A2142F"/>
<path d="M539.4 244.3 L534.5 243.4 L529.5 242.4 L524.5 241.6 L519.6 240.8 L514.6 240 L509.6 239.4 L504.6 238.7 L499.6 238.1 L494.6 237.7 L489.6 237.2 L484.6 236.7 L479.6 236.3 L474.5 235.8 L469.5 235.4 L464.5 235 L459.5 234.7 L454.5 234.3 L449.4 234 L444.4 233.7 L439.4 233.3 L434.4 233 L429.3 232.8 L424.3 232.5 L419.3 232.3 L414.3 232.1 L409.2 231.9 L404.2 231.7 L399.2 231.5 L394.2 231.4 L389.1 231.2 L384.1 231.1 L379.1 230.9 L374.1 230.7 L369 230.6 L364 230.4 L359 230.2 L354 230.1 L349 229.9 L344 229.6 L339 229.4 L334 229.2 L329 228.9 L323.9 228.6 L318.9 228.3 L313.9 228 L309 227.7 L304 227.3 L299 226.9 L294 226.5 L289 225.9 L284.1 225.4 L279.1 224.8 L274.1 224.2 L269.2 223.6 L264.2 222.9 L259.3 222.1 L254.4 221.3 L249.4 220.5 L244.5 219.7 L239.6 218.7 L234.7 217.6 L229.9 216.6 L225 215.5 L220.1 214.3 L215.3 213 L210.5 211.7 L205.7 210.3 L200.9 208.9 L196.1 207.4 L191.3 205.7 L186.6 204.1 L181.8 202.2 L177.1 200 L172.4 197.4 L167.7 194.4 L163 191.3 L158.4 188.1 L153.7 184.9 L149 181.9 L144.3 179 L141.9 177.8" stroke="#0072BD"/>
<path d="M539.4 170.1 L534.4 169.6 L529.4 169.1 L524.4 168.7 L519.3 168.4 L514.3 168.2 L509.3 167.9 L504.2 167.8 L499.2 167.7 L494.1 167.6 L489.1 167.5 L484.1 167.5 L479 167.5 L474 167.6 L469 167.6 L463.9 167.7 L458.9 167.9 L453.8 168 L448.8 168.1 L443.8 168.3 L438.7 168.5 L433.7 168.7 L428.7 168.9 L423.6 169.1 L418.6 169.4 L413.6 169.8 L408.5 170.1 L403.5 170.5 L398.5 170.8 L393.4 171.2 L388.4 171.6 L383.4 172 L378.3 172.4 L373.3 172.9 L368.3 173.3 L363.2 173.8 L358.2 174.3 L353.2 174.7 L348.1 175.2 L343.1 175.6 L338.1 176.1 L333 176.5 L328 176.9 L322.9 177.4 L317.9 177.7 L312.9 178.1 L307.8 178.5 L302.8 178.8 L297.8 179.2 L292.7 179.5 L287.7 179.8 L282.6 180.1 L277.6 180.3 L272.6 180.5 L267.5 180.7 L262.5 180.8 L257.5 180.9 L252.4 181 L247.4 181 L242.4 181 L237.3 180.9 L232.3 180.8 L227.3 180.6 L222.3 180.4 L217.2 180 L212.2 179.7 L207.2 179.4 L202.2 178.9 L197.2 178.3 L192.2 177.7 L187.2 177 L182.2 176.2 L177.3 174.9 L172.3 173.1 L167.3 171 L162.4 168.8 L157.4 166.4 L152.5 164 L147.5 161.7 L142.6 159.8 L140.1 159" stroke="#D95319"/>
<path d="M539.4 95.8 L534.4 96 L529.3 96.3 L524.3 96.5 L519.3 96.8 L514.2 97.2 L509.2 97.6 L504.2 98 L499.2 98.5 L494.2 99 L489.2 99.6 L484.2 100.2 L479.2 100.8 L474.2 101.4 L469.2 102.1 L464.2 102.8 L459.2 103.5 L454.2 104.1 L449.2 104.9 L444.2 105.6 L439.2 106.4 L434.3 107.2 L429.3 107.9 L424.3 108.7 L419.3 109.5 L414.3 110.3 L409.4 111.1 L404.4 111.9 L399.4 112.8 L394.5 113.6 L389.5 114.4 L384.5 115.3 L379.6 116.1 L374.6 117 L369.6 117.8 L364.6 118.6 L359.7 119.5 L354.7 120.3 L349.7 121.1 L344.8 122 L339.8 122.8 L334.8 123.7 L329.9 124.5 L324.9 125.3 L319.9 126.1 L314.9 126.9 L310 127.7 L305 128.5 L300 129.3 L295 130.1 L290 130.8 L285.1 131.6 L280.1 132.4 L275.1 133.1 L270.1 133.8 L265.1 134.5 L260.1 135.2 L255.1 135.9 L250.1 136.5 L245.1 137.2 L240.1 137.8 L235.1 138.4 L230.1 139 L225.1 139.5 L220.1 140.1 L215.1 140.6 L210.1 141 L205.1 141.4 L200 141.8 L195 142.1 L190 142.4 L184.9 142.7 L179.9 142.9 L174.9 143.1 L169.8 143.2 L164.8 143.2 L159.8 143.2 L154.7 143.2 L149.7 143.1 L144.6 142.9 L139.6 142.8" stroke="#EDB120"/>
<path d="M473.7 416.4 L468.7 416.7 L463.6 416.9 L458.6 417.1 L453.5 417.1 L448.5 416.9 L443.4 416.8 L438.4 416.5 L433.3 416.1 L428.3 415.5 L423.3 414.8 L418.3 414.1 L413.4 413.2 L408.4 412.1 L403.5 411 L398.6 409.7 L393.8 408.3 L388.9 406.8 L384.2 405.2 L379.4 403.5 L374.7 401.6 L370 399.7 L365.4 397.7 L360.8 395.6 L356.3 393.4 L351.8 391.1 L347.3 388.7 L342.9 386.3 L338.5 383.8 L334.2 381.2 L329.9 378.5 L325.6 375.9 L321.4 373.1 L317.2 370.2 L313.1 367.4 L309 364.4 L304.9 361.4 L300.9 358.4 L296.8 355.4 L292.9 352.2 L288.9 349.1 L285 345.9 L281.1 342.7 L277.2 339.5 L273.4 336.2 L269.6 332.9 L265.8 329.5 L262 326.3 L258.2 323.1 L254.5 320.1 L250.8 317.2 L247.1 314.3 L243.4 311.5 L239.7 308.8 L236 306.2 L232.4 303.5 L228.7 300.9 L225.1 298.2 L221.5 295.5 L217.9 292.8 L214.2 289.9 L210.6 286.9 L207 283.8 L203.3 280.5 L199.8 277 L196.1 273.5 L192.5 270 L188.8 266.6 L185.1 263.1 L181.4 259.6 L177.7 255.7 L174 251.7 L172.1 249.7" stroke="#7E2F8E"/>
<path d="M473.7 342.2 L468.7 341.5 L463.7 340.8 L458.7 340.1 L453.7 339.4 L448.7 338.6 L443.7 337.8 L438.7 337 L433.7 336.2 L428.7 335.3 L423.7 334.4 L418.8 333.4 L413.8 332.4 L408.9 331.4 L403.9 330.3 L399 329.2 L394.1 328.1 L389.2 326.9 L384.2 325.7 L379.4 324.4 L374.5 323.1 L369.6 321.8 L364.7 320.5 L359.9 319.1 L355 317.7 L350.2 316.3 L345.4 314.8 L340.6 313.4 L335.9 311.9 L331.1 310.4 L326.4 308.9 L321.6 307.3 L316.9 305.8 L312.2 304.2 L307.6 302.7 L302.9 301.1 L298.3 299.5 L293.7 297.9 L289.1 296.3 L284.5 294.6 L280 292.9 L275.5 291.2 L271 289.4 L266.5 287.5 L262 285.6 L257.5 283.6 L253.1 281.5 L248.7 279.2 L244.4 276.9 L240 274.5 L235.7 272 L231.4 269.6 L227.1 267 L222.8 264.5 L218.6 261.8 L214.3 259.2 L210.1 256.5 L205.9 253.8 L201.7 251 L197.6 248.2 L193.4 245.3 L189.3 242.4 L185.1 239.5 L181 236.5 L176.9 233 L172.7 229.4 L168.6 225.6 L164.4 221.6 L160.3 217.5 L156.1 213.5 L151.8 209.5 L149.7 207.6" stroke="#77AC30"/>
<path d="M473.7 268 L468.7 267.5 L463.6 267 L458.6 266.4 L453.5 266 L448.5 265.5 L443.4 265 L438.4 264.5 L433.3 263.9 L428.3 263.4 L423.2 262.9 L418.2 262.4 L413.2 261.9 L408.1 261.4 L403.1 261 L398 260.5 L393 260 L388 259.5 L383 259 L377.9 258.5 L372.9 258 L367.9 257.4 L362.9 256.9 L357.9 256.3 L352.9 255.7 L347.9 255.1 L342.9 254.5 L337.9 253.8 L332.9 253.1 L328 252.3 L323 251.6 L318.1 250.8 L313.1 250 L308.2 249.1 L303.2 248.2 L298.3 247.3 L293.4 246.3 L288.5 245.3 L283.6 244.2 L278.7 243.1 L273.8 242 L269 240.8 L264.1 239.6 L259.3 238.2 L254.5 236.9 L249.7 235.5 L244.9 234 L240.1 232.5 L235.3 230.9 L230.6 229.3 L225.9 227.6 L221.2 225.8 L216.5 224.1 L211.8 222.3 L207.1 220.4 L202.5 218.4 L197.8 216.4 L193.2 214.3 L188.6 212.2 L184 210 L179.4 207.6 L174.8 204.7 L170.3 201.5 L165.7 198.2 L161.1 194.7 L156.5 191.2 L151.9 187.8 L147.3 184.7 L144.9 183.2" stroke="#4DBEEE"/>
<path d="M473.7 193.7 L468.7 193.7 L463.6 193.7 L458.6 193.7 L453.5 193.7 L448.5 193.7 L443.4 193.8 L438.4 193.8 L433.3 193.8 L428.3 193.8 L423.2 193.9 L418.2 194 L413.1 194.1 L408.1 194.2 L403 194.3 L398 194.4 L392.9 194.6 L387.9 194.7 L382.8 194.9 L377.8 195.1 L372.8 195.2 L367.7 195.4 L362.7 195.5 L357.6 195.6 L352.6 195.8 L347.5 195.9 L342.5 196 L337.4 196.1 L332.4 196.2 L327.4 196.2 L322.3 196.2 L317.3 196.3 L312.2 196.3 L307.2 196.3 L302.2 196.2 L297.1 196.1 L292.1 196 L287.1 195.9 L282 195.7 L277 195.5 L272 195.2 L267 195 L262 194.6 L257 194.2 L252 193.8 L246.9 193.4 L242 192.9 L237 192.3 L232 191.6 L227 190.9 L222.1 190.2 L217.1 189.4 L212.1 188.5 L207.2 187.6 L202.3 186.6 L197.3 185.6 L192.4 184.4 L187.5 183.3 L182.6 182 L177.8 180.2 L172.9 178.1 L168 175.7 L163.1 173 L158.3 170.3 L153.4 167.6 L148.5 165 L143.6 162.8" stroke="#A2142F"/>
<path d="M473.7 119.5 L468.7 120.1 L463.7 120.8 L458.6 121.4 L453.6 122.1 L448.6 122.7 L443.6 123.4 L438.6 124.1 L433.6 124.8 L428.5 125.5 L423.5 126.2 L418.5 126.9 L413.5 127.6 L408.5 128.3 L403.5 129 L398.5 129.7 L393.4 130.4 L388.4 131.2 L383.4 131.8 L378.4 132.5 L373.4 133.2 L368.4 133.8 L363.3 134.5 L358.3 135.2 L353.3 135.8 L348.3 136.5 L343.3 137.1 L338.3 137.8 L333.2 138.4 L328.2 139.1 L323.2 139.7 L318.2 140.3 L313.1 140.9 L308.1 141.4 L303.1 142 L298 142.5 L293 143 L288 143.5 L282.9 144.1 L277.9 144.6 L272.8 145 L267.8 145.5 L262.8 145.8 L257.7 146.2 L252.7 146.6 L247.6 146.9 L242.6 147.2 L237.5 147.5 L232.4 147.7 L227.4 147.9 L222.3 148.1 L217.3 148.2 L212.2 148.3 L207.1 148.3 L202.1 148.3 L197 148.3 L192 148.2 L186.9 148 L181.8 147.8 L176.8 147.6 L171.7 147.3 L166.7 146.9 L161.6 146.5 L156.6 146 L151.6 145.6 L146.5 145.1 L144 144.8" stroke="#0072BD"/>
<path d="M408 440.1 L403 439.6 L397.9 438.9 L392.9 438 L388 436.9 L383.1 435.5 L378.3 434 L373.5 432.3 L368.8 430.4 L364.2 428.4 L359.6 426.1 L355.1 423.8 L350.7 421.3 L346.4 418.6 L342.2 415.9 L337.9 413 L333.8 410.1 L329.7 407.1 L325.7 404 L321.7 400.9 L317.8 397.7 L313.9 394.4 L310.1 391.1 L306.3 387.8 L302.5 384.3 L298.8 380.9 L295.1 377.4 L291.4 373.9 L287.9 370.3 L284.3 366.7 L280.7 363.2 L277.2 359.5 L273.6 355.9 L270.1 352.2 L266.7 348.5 L263.2 344.8 L259.7 341.1 L256.3 337.4 L252.9 333.6 L249.4 329.9 L246 326.3 L242.6 322.8 L239.2 319.5 L235.8 316.3 L232.4 313.3 L229.1 310.3 L225.7 307.4 L222.2 304.6 L218.8 301.8 L215.4 298.9 L212 296 L208.6 293.1 L205.2 290 L201.7 286.9 L198.2 283.5 L194.7 280 L191.2 276.4 L187.7 272.7 L184.1 269.1 L180.5 265.4 L178.7 263.4" stroke="#D95319"/>
<path d="M408 365.9 L403.1 364.6 L398.2 363.2 L393.4 361.8 L388.5 360.3 L383.7 358.8 L378.9 357.1 L374.1 355.5 L369.3 353.8 L364.6 352 L359.8 350.1 L355.1 348.3 L350.4 346.3 L345.8 344.2 L341.2 342.2 L336.5 340.1 L332 337.9 L327.4 335.7 L322.9 333.4 L318.4 331.1 L313.9 328.7 L309.4 326.4 L305 324 L300.6 321.6 L296.2 319.3 L291.9 317 L287.5 314.7 L283.2 312.4 L278.9 310.2 L274.7 308 L270.4 305.8 L266.2 303.6 L262.1 301.4 L257.9 299.2 L253.8 296.9 L249.6 294.7 L245.5 292.3 L241.5 289.9 L237.4 287.4 L233.3 284.8 L229.3 282.1 L225.3 279.2 L221.3 276.1 L217.4 273.1 L213.4 270 L209.4 267 L205.4 263.9 L201.5 260.8 L197.5 257.6 L193.6 254.5 L189.6 251.4 L185.7 248.2 L181.7 244.9 L177.7 241.3 L173.8 237.5 L169.8 233.5 L165.7 229.4 L161.7 225.2 L157.5 221.1 L153.4 217" stroke="#EDB120"/>
<path d="M408 291.6 L403 290.7 L398 289.7 L393.1 288.8 L388.1 287.8 L383.1 286.8 L378.2 285.9 L373.2 285.1 L368.3 284.2 L363.4 283.4 L358.5 282.5 L353.6 281.6 L348.7 280.7 L343.8 279.8 L338.9 278.8 L334 277.7 L329.2 276.5 L324.3 275.3 L319.5 274 L314.7 272.6 L309.9 271.3 L305.1 269.9 L300.3 268.5 L295.6 267 L290.8 265.5 L286.1 263.9 L281.4 262.3 L276.7 260.7 L272 259 L267.3 257.2 L262.7 255.4 L258 253.6 L253.4 251.7 L248.8 249.7 L244.3 247.7 L239.7 245.7 L235.1 243.7 L230.6 241.5 L226.1 239.4 L221.6 237.2 L217.1 234.9 L212.7 232.6 L208.2 230.3 L203.8 227.9 L199.3 225.5 L194.9 223.1 L190.5 220.6 L186.1 218.1 L181.7 215.5 L177.3 212.5 L172.8 209.3 L168.4 205.7 L163.9 202.1 L159.5 198.5 L154.9 194.9 L150.4 191.4 L148.1 189.7" stroke="#7E2F8E"/>
<path d="M408 217.4 L402.9 217.1 L397.9 216.8 L392.8 216.6 L387.7 216.4 L382.6 216.2 L377.6 216 L372.5 215.9 L367.4 215.8 L362.4 215.8 L357.3 215.7 L352.3 215.7 L347.2 215.6 L342.2 215.4 L337.1 215.2 L332.1 214.9 L327 214.5 L322 214.2 L316.9 213.8 L311.9 213.4 L306.9 212.9 L301.9 212.4 L296.8 211.9 L291.8 211.4 L286.8 210.8 L281.8 210.2 L276.8 209.5 L271.8 208.8 L266.9 208 L261.9 207.2 L256.9 206.4 L252 205.5 L247 204.5 L242.1 203.5 L237.2 202.5 L232.3 201.3 L227.4 200.2 L222.5 198.9 L217.6 197.6 L212.7 196.3 L207.9 194.9 L203 193.6 L198.2 192.1 L193.3 190.5 L188.5 189 L183.7 187.3 L178.9 185.3 L174.1 182.9 L169.3 180.2 L164.4 177.3 L159.6 174.4 L154.8 171.4 L149.9 168.6 L147.5 167.3" stroke="#77AC30"/>
<path d="M408 143.1 L403 143.7 L397.9 144.2 L392.9 144.8 L387.9 145.3 L382.9 145.9 L377.8 146.5 L372.8 147 L367.8 147.5 L362.7 148 L357.7 148.5 L352.7 149 L347.6 149.6 L342.6 150.1 L337.6 150.6 L332.5 151.1 L327.5 151.7 L322.4 152.3 L317.4 152.9 L312.4 153.5 L307.3 154.1 L302.3 154.7 L297.2 155.3 L292.2 155.8 L287.1 156.2 L282.1 156.8 L277 157.3 L272 157.7 L266.9 158.1 L261.8 158.4 L256.8 158.7 L251.7 159 L246.7 159.1 L241.6 159.1 L236.6 159.1 L231.5 159 L226.4 158.8 L221.4 158.5 L216.3 158.1 L211.3 157.6 L206.2 157 L201.2 156.3 L196.2 155.5 L191.1 154.7 L186.1 153.8 L181.1 152.8 L176 151.6 L171 150.6 L166 149.6 L161 148.8 L156 147.9 L151 147.2 L148.5 146.8" stroke="#4DBEEE"/>
<path d="M342.3 463.8 L338 461.1 L334 458 L330 454.8 L326.3 451.4 L322.7 447.9 L319.2 444.2 L315.8 440.4 L312.4 436.6 L309.2 432.7 L306 428.8 L302.8 424.8 L299.7 420.8 L296.6 416.8 L293.5 412.8 L290.5 408.7 L287.5 404.6 L284.5 400.5 L281.5 396.4 L278.6 392.3 L275.6 388.2 L272.7 384 L269.7 379.9 L266.8 375.8 L263.9 371.6 L261 367.4 L258.1 363.3 L255.1 359.2 L252.2 355 L249.3 350.9 L246.3 346.8 L243.4 342.6 L240.4 338.5 L237.4 334.4 L234.4 330.3 L231.5 326.3 L228.4 322.6 L225.4 319 L222.3 315.7 L219.2 312.5 L216.2 309.4 L213.1 306.3 L209.9 303.3 L206.7 300.4 L203.5 297.4 L200.2 294.3 L197 291.2 L193.6 287.9 L192 286.2" stroke="#A2142F"/>
<path d="M342.3 389.5 L338 386.8 L333.7 384 L329.5 381.2 L325.3 378.2 L321.2 375.3 L317 372.3 L313 369.2 L309 366.1 L305 362.9 L301 359.7 L297.1 356.5 L293.2 353.2 L289.3 349.9 L285.4 346.6 L281.6 343.2 L277.8 339.8 L274 336.4 L270.3 332.9 L266.6 329.5 L262.8 326.1 L259.1 322.8 L255.4 319.7 L251.8 316.7 L248.1 313.7 L244.5 310.9 L240.9 308.1 L237.2 305.4 L233.6 302.7 L230 299.9 L226.3 297.2 L222.7 294.4 L219.1 291.5 L215.5 288.6 L211.9 285.4 L208.3 282.2 L204.7 278.7 L201 275.2 L197.3 271.7 L193.6 268.2 L190 264.7 L186.2 261.3 L182.5 257.7 L178.7 254 L174.9 250 L171.1 245.8 L167.2 241.6 L163.3 237.3 L159.3 233" stroke="#0072BD"/>
<path d="M342.3 315.3 L337.7 313.2 L333.1 311.1 L328.5 309 L323.9 306.9 L319.4 304.9 L314.8 303 L310.4 301 L305.9 299.2 L301.4 297.5 L297 295.7 L292.6 294 L288.2 292.2 L283.8 290.4 L279.4 288.4 L275.1 286.2 L270.8 283.9 L266.5 281.6 L262.2 279.2 L258 276.6 L253.7 274.1 L249.5 271.4 L245.3 268.7 L241.1 266.1 L236.9 263.4 L232.7 260.6 L228.6 257.8 L224.4 255 L220.3 252.2 L216.1 249.4 L212 246.5 L207.9 243.7 L203.7 240.8 L199.6 237.9 L195.4 235 L191.3 232.1 L187.1 229.2 L182.9 226.3 L178.7 223.1 L174.5 219.6 L170.2 215.9 L166 212.1 L161.6 208.3 L157.2 204.5 L152.8 200.7" stroke="#D95319"/>
<path d="M342.3 241 L337.4 239.9 L332.4 238.9 L327.5 237.9 L322.6 237 L317.7 236.2 L312.8 235.5 L307.9 234.8 L303 234.1 L298.2 233.4 L293.3 232.8 L288.5 231.9 L283.7 231 L278.9 229.9 L274.1 228.5 L269.3 227.1 L264.5 225.6 L259.7 224.1 L255 222.5 L250.3 220.9 L245.5 219.3 L240.8 217.6 L236.1 215.9 L231.4 214.1 L226.8 212.3 L222.1 210.4 L217.4 208.5 L212.8 206.6 L208.1 204.7 L203.5 202.6 L198.9 200.6 L194.2 198.6 L189.6 196.6 L185 194.6 L180.3 192.3 L175.7 189.6 L171 186.7 L166.3 183.6 L161.6 180.4 L156.9 177.2 L152.1 174.2" stroke="#EDB120"/>
<path d="M342.3 166.8 L337.2 167 L332.1 167.2 L327 167.6 L321.9 168 L316.8 168.6 L311.8 169.2 L306.7 169.9 L301.6 170.6 L296.5 171.3 L291.4 172 L286.3 172.6 L281.2 173.1 L276.1 173.4 L271 173.5 L266 173.5 L260.9 173.4 L255.8 173.3 L250.7 173.1 L245.6 172.9 L240.6 172.7 L235.5 172.3 L230.4 172 L225.4 171.5 L220.3 171 L215.3 170.2 L210.3 169.3 L205.2 168.2 L200.2 166.8 L195.2 165.3 L190.2 163.5 L185.2 161.8 L180.2 159.6 L175.2 157.4 L170.2 155.2 L165.2 153.2 L160.2 151.5 L155.2 150.1" stroke="#7E2F8E"/>
<path d="M276.6 487.4 L276.9 482.3 L276.9 477.1 L276.5 472 L275.9 466.9 L275.1 461.9 L274.2 456.8 L273.2 451.8 L272 446.8 L270.8 441.8 L269.4 436.8 L268.1 431.9 L266.5 427 L265 422.1 L263.4 417.2 L261.7 412.4 L260 407.5 L258.2 402.7 L256.4 397.9 L254.5 393.2 L252.6 388.4 L250.6 383.7 L248.5 379 L246.4 374.3 L244.3 369.6 L242.1 365 L239.9 360.3 L237.6 355.8 L235.2 351.2 L232.8 346.7 L230.4 342.2 L227.8 337.7 L225.3 333.2 L222.7 328.8" stroke="#77AC30"/>
<path d="M276.6 413.2 L274.2 408.7 L271.7 404.3 L269.2 399.9 L266.8 395.4 L264.4 391 L261.8 386.6 L259.3 382.2 L256.8 377.8 L254.2 373.4 L251.7 369 L249.1 364.7 L246.5 360.3 L243.8 356 L241.2 351.6 L238.5 347.4 L235.9 343 L233.1 338.8 L230.4 334.5 L227.6 330.3 L224.8 326.2 L221.9 322.3 L219 318.7 L216.1 315.3 L213.2 312 L210.2 308.9 L207.2 305.8 L204.1 302.8 L201.1 299.8 L197.9 296.7 L194.7 293.6 L191.4 290.4 L188.1 287.1 L184.7 283.7 L181.3 279.9 L177.8 275.8 L174.3 271.6 L172.5 269.4" stroke="#4DBEEE"/>
<path d="M276.6 338.9 L273.3 335 L270 331.1 L266.7 327.3 L263.4 323.5 L260.2 319.7 L256.9 316.1 L253.6 312.7 L250.3 309.4 L247 306.4 L243.7 303.6 L240.4 300.9 L237 298.2 L233.7 295.5 L230.4 292.5 L226.9 289.4 L223.6 286.1 L220.1 282.8 L216.6 279.2 L213.1 275.6 L209.6 272 L206.1 268.5 L202.5 264.9 L198.9 261.3 L195.2 257.8 L191.5 254.4 L187.7 251 L183.9 247.6 L180.1 244 L176.2 240.3 L172.2 236.4 L168.1 232.3 L164 228.3 L161.9 226.2" stroke="#A2142F"/>
<path d="M276.6 264.7 L272.6 261.7 L268.5 258.9 L264.5 256.3 L260.5 253.9 L256.4 251.6 L252.4 249.3 L248.4 247.2 L244.4 245.1 L240.4 243 L236.4 240.8 L232.3 238.5 L228.3 236.1 L224.2 233.5 L220.1 230.6 L216 227.8 L211.9 224.9 L207.7 222 L203.6 219.1 L199.4 216.3 L195.1 213.5 L190.8 210.8 L186.6 208.1 L182.2 205.3 L177.8 202.3 L173.3 199.1 L168.8 195.7 L164.3 192.2 L162 190.5" stroke="#0072BD"/>
<path d="M276.6 190.5 L271.6 189.2 L266.6 188 L261.6 187.1 L256.6 186.2 L251.6 185.5 L246.6 184.9 L241.6 184.4 L236.7 183.9 L231.7 183.3 L226.8 182.6 L221.8 181.8 L216.9 180.8 L211.9 179.5 L206.9 178 L202 176.5 L197 175 L192 173.4 L187 171.9 L182 169.9 L177 167.1 L174.5 165.4 L172 163.7 L169.5 162" stroke="#D95319"/>
<path d="M456.8 374.2 L451.8 373.8 L446.7 373.5 L441.7 373.3 L436.6 373 L431.6 372.8 L426.6 372.6 L421.5 372.4 L416.5 372.2 L411.4 372 L406.4 371.7 L401.4 371.4 L396.3 371.1 L391.3 370.8 L386.3 370.4 L381.2 370 L376.2 369.5 L371.2 369 L366.2 368.4 L361.2 367.8 L356.2 367.1 L351.2 366.4 L346.2 365.6 L341.2 364.7 L336.3 363.8 L331.3 362.8 L326.4 361.7 L321.5 360.5 L316.6 359.3 L311.7 358 L306.9 356.5 L302.1 355 L297.2 353.5 L292.5 351.8 L287.8 350.1 L283.1 348.2 L278.4 346.3 L273.7 344.3 L269.1 342.2 L264.6 340.1 L260.1 337.8 L255.6 335.4 L251.2 333 L246.8 330.5 L242.5 327.9 L238.2 325.4 L234 322.9 L229.7 320.5 L225.6 318 L221.6 315.5 L217.5 313.2 L213.5 310.8 L209.5 308.4 L205.7 305.9 L201.8 303.5 L198 301 L194.3 298.5 L190.7 295.7 L187 292.9 L183.4 290 L179.9 286.6 L176.4 282.8 L173 278.5 L169.6 274 L166.3 269.4 L163 264.7 L159.8 259.9 L156.6 255 L153.5 250.2 L150.4 245.4 L147.4 240.6" stroke="#EDB120"/>
<path d="M456.8 299.9 L451.9 298.6 L447 297.3 L442.1 296.2 L437.1 295.2 L432.1 294.3 L427.1 293.5 L422.1 292.7 L417.1 292 L412.1 291.4 L407.1 290.8 L402.1 290.3 L397.1 289.8 L392.1 289.3 L387 288.9 L382 288.4 L377 288 L372 287.6 L366.9 287.3 L361.9 286.9 L356.9 286.6 L351.9 286.1 L346.8 285.8 L341.8 285.4 L336.8 285.1 L331.8 284.6 L326.8 284.2 L321.8 283.8 L316.8 283.3 L311.8 282.8 L306.8 282.3 L301.8 281.7 L296.8 281.1 L291.9 280.5 L286.9 279.8 L282 279 L277 278.3 L272.1 277.4 L267.2 276.5 L262.3 275.4 L257.4 274.3 L252.5 273.2 L247.7 272 L242.8 270.7 L238 269.3 L233.2 267.9 L228.5 266.3 L223.7 264.7 L219 263 L214.3 261.3 L209.6 259.4 L205 257.4 L200.5 255.3 L195.9 253.1 L191.4 250.9 L186.9 248.6 L182.5 246 L178.2 243 L173.8 239.7 L169.6 236 L165.4 232.1 L161.2 228 L157.1 223.9 L153.1 219.7 L149.1 215.6 L145.2 211.5 L141.2 207.6 L139.2 205.8" stroke="#7E2F8E"/>
<path d="M456.8 225.7 L451.9 224.7 L446.9 223.6 L441.9 222.8 L436.9 222.1 L431.9 221.4 L426.9 220.9 L421.9 220.4 L416.9 220 L411.8 219.7 L406.8 219.5 L401.7 219.4 L396.7 219.3 L391.6 219.3 L386.6 219.3 L381.6 219.3 L376.5 219.3 L371.5 219.4 L366.4 219.5 L361.4 219.6 L356.3 219.7 L351.3 219.9 L346.2 220 L341.2 220.2 L336.1 220.3 L331.1 220.5 L326 220.6 L321 220.8 L315.9 220.9 L310.9 221 L305.8 221.1 L300.8 221.2 L295.7 221.2 L290.7 221.3 L285.7 221.2 L280.6 221.2 L275.6 221.1 L270.5 221.1 L265.5 220.9 L260.5 220.7 L255.4 220.5 L250.4 220.2 L245.4 219.9 L240.4 219.5 L235.4 219.1 L230.4 218.6 L225.4 218 L220.4 217.3 L215.4 216.7 L210.4 215.8 L205.5 215 L200.5 214 L195.6 212.9 L190.7 211.8 L185.8 210.5 L180.9 209 L176.1 207 L171.3 204.5 L166.5 201.7 L161.8 198.7 L157 195.5 L152.3 192.3 L147.7 189.2 L143.1 186.2 L138.4 183.7 L136 182.6" stroke="#77AC30"/>
<path d="M456.8 151.5 L451.8 151.1 L446.7 150.8 L441.7 150.5 L436.6 150.4 L431.6 150.3 L426.5 150.3 L421.5 150.5 L416.4 150.7 L411.4 150.8 L406.3 151.1 L401.3 151.5 L396.2 151.8 L391.2 152.2 L386.1 152.7 L381.1 153.2 L376.1 153.7 L371 154.3 L366 154.9 L361 155.6 L355.9 156.3 L350.9 157.1 L345.9 157.8 L340.8 158.7 L335.8 159.5 L330.8 160.4 L325.7 161.3 L320.7 162.2 L315.7 163.1 L310.6 164 L305.6 164.9 L300.6 165.8 L295.5 166.7 L290.5 167.6 L285.5 168.3 L280.4 169 L275.4 169.7 L270.4 170.4 L265.3 171 L260.3 171.7 L255.2 172.3 L250.2 172.8 L245.2 173.4 L240.1 173.9 L235.1 174.3 L230 174.8 L225 175.1 L219.9 175.5 L214.9 175.7 L209.8 175.9 L204.8 176.1 L199.7 176.2 L194.6 176.2 L189.6 176.1 L184.5 176 L179.5 175.5 L174.4 174.5 L169.4 173.1 L164.4 171.4 L159.3 169.6 L154.3 167.6 L149.3 165.7 L144.2 164 L139.2 162.5 L134.2 161.7" stroke="#4DBEEE"/>
<path d="M456.8 77.2 L451.8 77.8 L446.8 78.3 L441.8 78.9 L436.8 79.6 L431.8 80.4 L426.8 81.2 L421.8 82 L416.9 82.9 L411.9 83.8 L406.9 84.8 L402 85.7 L397 86.7 L392.1 87.8 L387.1 88.8 L382.2 89.8 L377.3 90.9 L372.4 92 L367.4 93.1 L362.5 94.2 L357.6 95.3 L352.7 96.4 L347.7 97.5 L342.8 98.7 L337.9 99.8 L333 101 L328.1 102.1 L323.2 103.3 L318.3 104.4 L313.3 105.6 L308.4 106.8 L303.5 107.9 L298.6 109.1 L293.7 110.2 L288.8 111.4 L283.9 112.5 L279 113.7 L274 114.8 L269.1 116 L264.2 117.1 L259.3 118.3 L254.4 119.4 L249.5 120.6 L244.5 121.7 L239.6 122.8 L234.7 123.9 L229.8 125 L224.8 126 L219.9 127.1 L215 128.2 L210 129.3 L205.1 130.3 L200.2 131.3 L195.2 132.3 L190.3 133.3 L185.3 134.3 L180.4 135.2 L175.4 136.1 L170.4 136.9 L165.4 137.8 L160.5 138.6 L155.5 139.4 L150.5 140.1 L145.5 140.8 L140.5 141.5 L135.5 142.2 L133 142.6" stroke="#A2142F"/>
<path d="M391.1 397.8 L386 397.9 L380.9 397.8 L375.9 397.7 L370.8 397.6 L365.7 397.4 L360.7 397 L355.6 396.6 L350.6 396.1 L345.5 395.5 L340.5 394.7 L335.5 393.9 L330.5 392.9 L325.6 391.8 L320.6 390.7 L315.7 389.4 L310.8 387.9 L306 386.4 L301.2 384.7 L296.5 382.9 L291.8 381 L287.1 378.9 L282.5 376.8 L278 374.6 L273.5 372.2 L269 369.7 L264.6 367.2 L260.3 364.5 L256 361.8 L251.8 358.9 L247.7 356 L243.6 353 L239.6 349.9 L235.6 346.8 L231.7 343.6 L227.8 340.3 L223.9 337 L220.1 333.6 L216.5 330.1 L212.8 326.7 L209.2 323.4 L205.6 320.2 L202.1 317.2 L198.6 314.2 L195.1 311.3 L191.7 308.4 L188.4 305.6 L185.1 302.7 L181.9 299.7 L178.6 296.4 L175.4 292.8 L172.3 288.9 L169.2 284.6 L166.1 280.1 L163.1 275.2 L160.2 270.2 L157.2 265.3 L154.3 260.3 L151.4 255.3 L148.6 250.4" stroke="#0072BD"/>
<path d="M391.1 323.6 L386.1 322.9 L381 322.2 L376 321.5 L371 320.8 L365.9 320 L360.9 319.3 L355.9 318.5 L350.9 317.7 L345.8 316.9 L340.8 316.1 L335.8 315.3 L330.9 314.4 L325.9 313.6 L320.9 312.7 L315.9 311.8 L311 310.8 L306.1 309.8 L301.1 308.7 L296.2 307.7 L291.3 306.7 L286.4 305.5 L281.6 304.4 L276.7 303.3 L271.9 302.1 L267.1 300.8 L262.3 299.6 L257.6 298.3 L252.9 296.9 L248.2 295.4 L243.5 293.9 L238.8 292.4 L234.2 290.7 L229.6 289 L225.1 287.2 L220.6 285.1 L216.1 283 L211.7 280.6 L207.3 278.2 L203 275.6 L198.7 273 L194.4 270.2 L190.2 267.4 L186 264.5 L181.9 261.4 L177.8 257.9 L173.8 254.1 L169.9 250.1 L166 245.8 L162.1 241.4 L158.3 236.9 L154.6 232.4 L150.9 227.9 L147.2 223.5 L143.6 219.2 L139.9 215.1" stroke="#D95319"/>
<path d="M391.1 249.4 L386 249 L381 248.7 L375.9 248.4 L370.9 248.1 L365.8 247.9 L360.7 247.9 L355.7 247.8 L350.6 247.9 L345.5 248 L340.5 248 L335.4 248.1 L330.4 248.1 L325.3 248 L320.3 247.9 L315.2 247.6 L310.2 247.4 L305.1 247.1 L300.1 246.8 L295 246.5 L290 246.1 L285 245.7 L280 245.2 L274.9 244.7 L269.9 244.1 L264.9 243.6 L259.9 242.9 L254.9 242.2 L249.9 241.4 L245 240.6 L240 239.8 L235.1 238.8 L230.1 237.8 L225.2 236.7 L220.3 235.5 L215.4 234.2 L210.6 232.9 L205.7 231.5 L200.9 230 L196.1 228.3 L191.3 226.6 L186.6 224.8 L181.9 222.9 L177.2 220.4 L172.5 217.5 L167.9 214.3 L163.4 210.8 L158.8 207.2 L154.4 203.5 L149.9 199.9 L145.5 196.4 L141 193.2 L136.5 190.3" stroke="#EDB120"/>
<path d="M391.1 175.1 L386 175.3 L381 175.6 L375.9 175.9 L370.9 176.3 L365.8 176.7 L360.8 177.3 L355.8 177.9 L350.7 178.5 L345.7 179.3 L340.6 180 L335.6 180.7 L330.5 181.4 L325.5 182.1 L320.4 182.6 L315.4 183.1 L310.3 183.6 L305.3 184.1 L300.2 184.6 L295.2 185.1 L290.1 185.5 L285 185.9 L280 186.3 L274.9 186.7 L269.9 187 L264.8 187.3 L259.8 187.6 L254.7 187.9 L249.7 188.1 L244.6 188.2 L239.6 188.4 L234.5 188.5 L229.5 188.5 L224.4 188.4 L219.4 188.3 L214.3 188.2 L209.3 188 L204.2 187.7 L199.2 187.4 L194.2 186.9 L189.1 186.4 L184.1 185.8 L179.1 184.8 L174.1 183.3 L169.1 181.4 L164.1 179.2 L159.2 176.9 L154.2 174.4 L149.3 172.1 L144.4 169.9 L139.4 168.1 L134.4 166.9" stroke="#7E2F8E"/>
<path d="M391.1 100.9 L386.1 101.8 L381.1 102.8 L376.1 103.7 L371.1 104.6 L366.1 105.6 L361.1 106.6 L356.2 107.6 L351.2 108.5 L346.2 109.5 L341.2 110.5 L336.2 111.5 L331.2 112.5 L326.3 113.5 L321.3 114.5 L316.3 115.5 L311.3 116.5 L306.3 117.5 L301.4 118.5 L296.4 119.5 L291.4 120.5 L286.4 121.5 L281.4 122.5 L276.4 123.5 L271.5 124.5 L266.5 125.4 L261.5 126.4 L256.5 127.3 L251.5 128.3 L246.5 129.3 L241.5 130.2 L236.5 131.1 L231.5 132 L226.5 132.8 L221.5 133.7 L216.5 134.6 L211.5 135.5 L206.5 136.2 L201.4 137 L196.4 137.8 L191.4 138.6 L186.4 139.3 L181.3 140 L176.3 140.5 L171.2 141.2 L166.2 141.8 L161.1 142.3 L156.1 142.7 L151 143.2 L146 143.5 L140.9 143.9 L135.8 144.4 L133.3 144.6" stroke="#77AC30"/>
<path d="M325.4 421.5 L320.4 420.6 L315.4 419.6 L310.5 418.4 L305.6 417 L300.8 415.3 L296.1 413.6 L291.4 411.6 L286.8 409.4 L282.3 407.1 L277.9 404.6 L273.5 402 L269.3 399.2 L265.1 396.4 L261 393.3 L257 390.2 L253 387 L249.2 383.8 L245.4 380.4 L241.7 376.9 L238 373.4 L234.4 369.9 L230.8 366.3 L227.3 362.6 L223.8 358.9 L220.4 355.1 L217.1 351.3 L213.7 347.5 L210.4 343.6 L207.2 339.7 L204 335.7 L200.9 331.8 L197.7 327.8 L194.6 324 L191.6 320.5 L188.5 317.1 L185.5 313.8 L182.6 310.6 L179.6 307.3 L176.7 304 L173.8 300.4 L171 296.7 L168.1 292.7 L165.3 288.3 L162.6 283.8 L159.9 278.9 L157.1 273.9 L154.4 268.9 L151.7 263.8 L150.4 261.3" stroke="#4DBEEE"/>
<path d="M325.4 347.2 L320.5 345.9 L315.7 344.5 L310.8 343 L306 341.5 L301.2 339.8 L296.5 338.1 L291.7 336.3 L287 334.5 L282.3 332.6 L277.7 330.7 L273 328.6 L268.5 326.5 L263.9 324.5 L259.4 322.4 L254.9 320.4 L250.4 318.3 L246 316.3 L241.6 314.2 L237.3 312.1 L233 310 L228.7 307.9 L224.5 305.8 L220.4 303.7 L216.2 301.5 L212.1 299.3 L208.1 297 L204.1 294.6 L200.1 292.1 L196.2 289.4 L192.3 286.6 L188.5 283.6 L184.8 280.3 L181 276.8 L177.3 272.9 L173.7 268.8 L170.1 264.4 L166.6 259.9 L163.1 255.3 L159.6 250.6 L156.2 245.9 L152.8 241.2 L149.4 236.6 L146.1 232 L142.8 227.5 L141.1 225.4" stroke="#A2142F"/>
<path d="M325.4 273 L320.4 272.2 L315.3 271.5 L310.3 270.9 L305.3 270.5 L300.3 270.1 L295.2 269.7 L290.2 269.5 L285.2 269.2 L280.3 268.9 L275.3 268.5 L270.4 268 L265.4 267.4 L260.5 266.5 L255.6 265.4 L250.7 264.1 L245.8 262.8 L240.9 261.4 L236.1 259.9 L231.3 258.4 L226.4 256.9 L221.7 255.1 L216.9 253.4 L212.2 251.5 L207.5 249.5 L202.9 247.5 L198.2 245.4 L193.7 243.2 L189.1 240.9 L184.6 238.5 L180.1 235.9 L175.6 232.7 L171.2 229.2 L166.9 225.5 L162.5 221.5 L158.2 217.5 L154 213.5 L149.8 209.5 L145.5 205.6 L141.3 201.9 L137 198.7" stroke="#0072BD"/>
<path d="M325.4 198.8 L320.3 198.8 L315.2 198.9 L310.1 199.1 L305.1 199.5 L300 199.9 L294.9 200.5 L289.8 201.1 L284.7 201.8 L279.6 202.4 L274.6 203 L269.5 203.5 L264.4 203.9 L259.3 204.1 L254.3 204 L249.2 203.8 L244.1 203.6 L239.1 203.3 L234 203 L229 202.6 L223.9 202.2 L218.9 201.6 L213.8 201.1 L208.8 200.4 L203.8 199.7 L198.8 198.9 L193.8 197.9 L188.8 196.9 L183.8 195.9 L178.8 194.4 L173.9 192.4 L169 190 L164.1 187.4 L159.2 184.5 L154.3 181.7 L149.5 178.9 L144.6 176.3 L139.7 174.1 L134.8 172.4" stroke="#D95319"/>
<path d="M325.4 124.5 L320.4 125.4 L315.4 126.2 L310.4 127.1 L305.3 127.9 L300.3 128.7 L295.3 129.6 L290.3 130.4 L285.3 131.2 L280.2 132.1 L275.2 132.8 L270.2 133.6 L265.2 134.4 L260.1 135.2 L255.1 135.9 L250.1 136.7 L245 137.4 L240 138.1 L235 138.8 L229.9 139.5 L224.9 140.2 L219.8 140.9 L214.8 141.5 L209.7 142.1 L204.7 142.6 L199.6 143.2 L194.6 143.7 L189.5 144.1 L184.4 144.6 L179.3 144.9 L174.3 145.3 L169.2 145.6 L164.1 145.9 L159 146.1 L153.9 146.3 L148.9 146.3 L143.8 146.4 L138.7 146.5 L133.6 146.7" stroke="#EDB120"/>
<path d="M259.7 445.1 L256.2 441.3 L252.9 437.5 L249.7 433.5 L246.6 429.4 L243.5 425.3 L240.5 421.2 L237.6 417 L234.7 412.7 L231.9 408.5 L229.1 404.2 L226.3 399.9 L223.5 395.6 L220.7 391.3 L218 387 L215.3 382.6 L212.7 378.3 L210 373.9 L207.3 369.6 L204.7 365.2 L202 360.8 L199.4 356.4 L196.7 352 L194.1 347.6 L191.5 343.2 L189 338.8 L186.4 334.4 L183.9 329.9 L181.3 325.7 L178.8 321.6 L176.3 317.8 L173.7 314 L171.2 310.3 L168.7 306.5 L166.2 302.5 L163.8 298.4 L161.3 294 L158.8 289.5 L156.4 284.7 L154 279.8" stroke="#7E2F8E"/>
<path d="M259.7 370.9 L255.6 367.8 L251.6 364.6 L247.6 361.4 L243.7 358.1 L239.9 354.7 L236 351.3 L232.2 347.9 L228.5 344.4 L224.8 340.8 L221.2 337.2 L217.6 333.6 L214 329.9 L210.5 326.3 L207 322.9 L203.6 319.6 L200.2 316.4 L196.8 313.4 L193.4 310.4 L190.1 307.4 L186.9 304.5 L183.6 301.5 L180.4 298.3 L177.2 294.9 L174 291.1 L170.9 287 L167.8 282.5 L164.7 277.8 L161.7 272.8 L158.7 267.8 L155.6 262.8 L152.7 257.8 L149.7 252.8 L146.8 247.9 L143.8 243.1 L142.4 240.8" stroke="#77AC30"/>
<path d="M259.7 296.7 L255.1 294.5 L250.4 292.5 L245.8 290.7 L241.2 289 L236.7 287.4 L232.2 286 L227.7 284.6 L223.3 283.1 L218.9 281.6 L214.5 280 L210.1 278.1 L205.8 275.9 L201.6 273.3 L197.4 270.5 L193.2 267.5 L189 264.5 L184.9 261.4 L180.8 258.1 L176.8 254.4 L172.8 250.4 L168.8 246.2 L164.9 241.9 L161 237.4 L157.1 232.9 L153.2 228.4 L149.4 223.9 L145.5 219.7 L141.7 215.5 L137.7 211.7" stroke="#4DBEEE"/>
<path d="M259.7 222.4 L254.6 221.5 L249.6 220.9 L244.5 220.4 L239.5 220 L234.5 219.7 L229.5 219.5 L224.5 219.4 L219.5 219.1 L214.6 218.7 L209.6 218.3 L204.7 217.6 L199.8 216.6 L194.9 215.4 L190 213.8 L185.2 212 L180.4 209.9 L175.6 207.4 L170.8 204.5 L166.1 201.3 L161.3 197.9 L156.6 194.5 L151.9 191.1 L147.2 187.8 L142.5 184.8 L137.7 182.3 L135.2 181.4" stroke="#A2142F"/>
<path d="M259.7 148.2 L254.6 148.6 L249.5 149.1 L244.4 149.5 L239.2 149.9 L234.1 150.4 L229 150.9 L223.9 151.4 L218.7 151.9 L213.6 152.4 L208.5 152.9 L203.3 153.4 L198.2 153.7 L193.1 153.9 L188 154.1 L182.8 154.2 L177.7 153.9 L172.6 153.5 L167.4 153.1 L162.3 152.5 L157.2 151.9 L152 151.3 L146.9 150.8 L141.8 150.3 L136.7 150.1 L134.1 150" stroke="#0072BD"/>
<path d="M195.1 467 L194 462 L192.8 457 L191.7 452.1 L190.5 447.1 L189.3 442.1 L188.2 437.2 L187 432.2 L185.9 427.2 L184.7 422.2 L183.6 417.3 L182.5 412.3 L181.3 407.3 L180.1 402.4 L178.8 397.4 L177.6 392.5 L176.3 387.5 L175 382.6 L173.7 377.6 L172.4 372.7 L171 367.8 L169.7 362.9 L168.4 357.9 L167 353 L165.6 348.1 L164.3 343.2 L162.8 338.3 L161.5 333.4 L160.8 330.9" stroke="#D95319"/>
<path d="M194.7 393 L193.1 388.1 L191.5 383.2 L189.9 378.3 L188.2 373.4 L186.5 368.5 L184.6 363.7 L182.7 358.9 L180.9 354.1 L179.2 349.2 L177.7 344.2 L176.3 339.3 L174.8 334.3 L173.4 329.4 L171.9 324.6 L170.4 320.1 L168.9 315.8 L167.4 311.6 L165.9 307.3 L164.3 303.1 L162.7 298.7 L161.1 294.1 L159.6 289.4" stroke="#EDB120"/>
<path d="M194 320.3 L191 316 L187.9 311.9 L184.9 307.9 L181.9 304.1 L178.9 300.5 L175.8 297.1 L172.7 293.7 L169.7 290.3 L166.6 286.6 L163.6 282.6 L160.5 278.2 L157.3 273.5 L154.3 268.5 L151.2 263.4 L148 258.4 L144.9 253.5 L141.8 248.7 L138.6 244.1" stroke="#7E2F8E"/>
<path d="M194 246.1 L189.7 243 L185.5 240.2 L181.2 237.7 L177 235.1 L172.8 232.6 L168.6 229.9 L164.3 226.8 L160 223.5 L155.8 219.9 L151.4 216.2 L147.1 212.2 L142.6 208.5 L137.9 205.3 L135.5 204" stroke="#77AC30"/>
<path d="M194 171.9 L188.8 170.9 L183.6 170.2 L178.5 169.6 L173.3 169.1 L168.2 168.3 L163 167.3 L157.9 165.9 L152.7 164.2 L147.6 162.3 L142.4 160.4 L137.1 159 L134.5 158.6" stroke="#4DBEEE"/>
<line class="a" x1="82.2" y1="493" x2="82.2" y2="121.8"/>
<line class="a" x1="495.2" y1="586.1" x2="82.2" y2="493"/>
<line class="a" x1="821.1" y1="468.7" x2="495.2" y2="586.1"/>
<line class="a" x1="82.2" y1="493" x2="71.1" y2="491.2"/>
<line class="a" x1="82.2" y1="418.8" x2="71.1" y2="417"/>
<line class="a" x1="82.2" y1="344.5" x2="71.1" y2="342.7"/>
<line class="a" x1="82.2" y1="270.3" x2="71.1" y2="268.5"/>
<line class="a" x1="82.2" y1="196.1" x2="71.1" y2="194.2"/>
<line class="a" x1="82.2" y1="121.8" x2="71.1" y2="120"/>
<line class="a" x1="460.1" y1="578.2" x2="448.3" y2="582.4"/>
<line class="a" x1="377.5" y1="559.5" x2="365.7" y2="563.8"/>
<line class="a" x1="294.9" y1="540.9" x2="283.1" y2="545.2"/>
<line class="a" x1="212.3" y1="522.3" x2="200.5" y2="526.6"/>
<line class="a" x1="129.7" y1="503.7" x2="117.9" y2="507.9"/>
<line class="a" x1="815.8" y1="470.6" x2="825.3" y2="473.1"/>
<line class="a" x1="750.1" y1="494.3" x2="759.6" y2="496.8"/>
<line class="a" x1="684.4" y1="517.9" x2="693.9" y2="520.4"/>
<line class="a" x1="618.7" y1="541.6" x2="628.2" y2="544.1"/>
<line class="a" x1="553" y1="565.2" x2="562.5" y2="567.7"/>
<text x="61.5" y="500.6" text-anchor="end">0</text>
<text x="61.5" y="426.4" text-anchor="end">0.2</text>
<text x="61.5" y="352.1" text-anchor="end">0.4</text>
<text x="61.5" y="277.9" text-anchor="end">0.6</text>
<text x="61.5" y="203.7" text-anchor="end">0.8</text>
<path class="one" d="M51.4 116.2 L56.3 111.9 L56.3 126.6"/>
<text x="440.6" y="610.3" text-anchor="end">0.2</text>
<text x="358" y="591.6" text-anchor="end">0.4</text>
<text x="275.4" y="573" text-anchor="end">0.6</text>
<text x="192.8" y="554.4" text-anchor="end">0.8</text>
<path class="one" d="M99.4 523.6 L104.3 519.3 L104.3 534.4"/>
<text x="834.1" y="500.7" text-anchor="start">0</text>
<text x="768.4" y="524.4" text-anchor="start">0.2</text>
<text x="702.7" y="548" text-anchor="start">0.4</text>
<text x="637" y="571.7" text-anchor="start">0.6</text>
<text x="571.3" y="595.3" text-anchor="start">0.8</text>
<text x="315.3" y="629.3" text-anchor="middle">x</text>
<text x="652.5" y="622.6" text-anchor="middle">y</text>
<text x="0" y="0" text-anchor="middle" transform="translate(16.8,309) rotate(-90)">z</text>
</svg></body></html>
